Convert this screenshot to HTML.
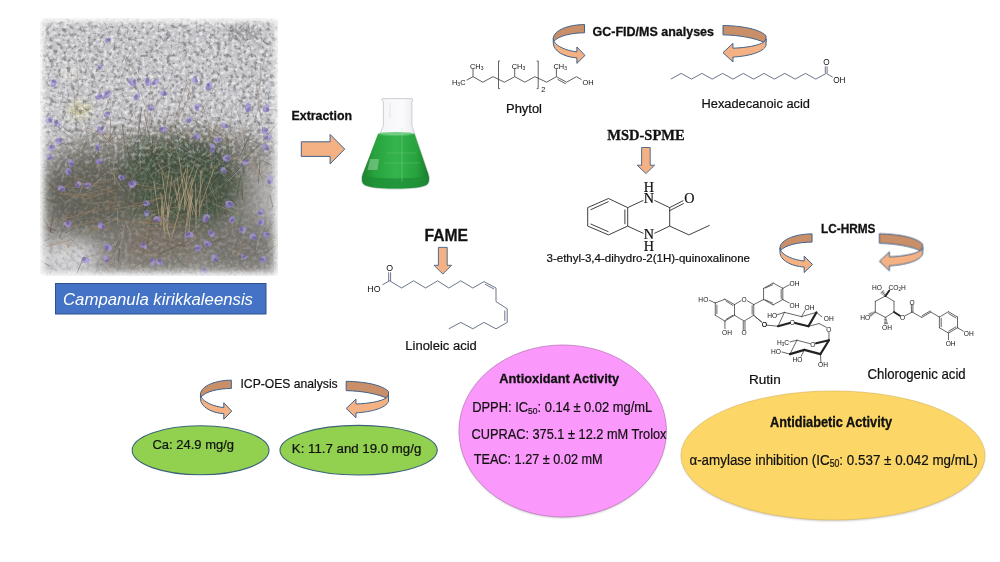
<!DOCTYPE html>
<html><head><meta charset="utf-8">
<style>
html,body{margin:0;padding:0;background:#fff;}
body{width:1000px;height:562px;overflow:hidden;}
svg{display:block;}
text{font-family:"Liberation Sans",sans-serif;fill:#111;}
.m text, text.m{stroke:#111;stroke-width:0.22px;}
.b{font-weight:bold;stroke:#111;stroke-width:0.3px;}
.sr{font-family:"Liberation Serif",serif;}
</style></head><body>
<svg width="1000" height="562" viewBox="0 0 1000 562">
<defs>
  <filter id="shd" x="-10%" y="-10%" width="120%" height="120%"><feGaussianBlur stdDeviation="0.8"/></filter>
  
  
</defs>
<rect width="1000" height="562" fill="#fff"/>

<!-- PHOTO -->
<g id="photo">
<defs>
<filter id="grav" x="0" y="0" width="1" height="1">
 <feTurbulence type="fractalNoise" baseFrequency="0.24" numOctaves="3" seed="3" result="n"/>
 <feColorMatrix in="n" type="matrix" values="0 0 0 0 0  0 0 0 0 0  0 0 0 0 0  -4 0 0 0 2.1" result="a"/>
 <feComposite in="SourceGraphic" in2="a" operator="in"/>
</filter>
<filter id="lite" x="0" y="0" width="1" height="1">
 <feTurbulence type="fractalNoise" baseFrequency="0.28" numOctaves="2" seed="11" result="n"/>
 <feColorMatrix in="n" type="matrix" values="0 0 0 0 0  0 0 0 0 0  0 0 0 0 0  3 0 0 0 -1.3" result="a"/>
 <feComposite in="SourceGraphic" in2="a" operator="in"/>
</filter>
<filter id="bl9" x="-30%" y="-30%" width="160%" height="160%"><feGaussianBlur stdDeviation="9"/></filter>
<filter id="bl4" x="-30%" y="-30%" width="160%" height="160%"><feGaussianBlur stdDeviation="4"/></filter>
<filter id="bl1" x="-30%" y="-30%" width="160%" height="160%"><feGaussianBlur stdDeviation="0.6"/></filter>
<filter id="emask" x="-10%" y="-10%" width="120%" height="120%">
 <feGaussianBlur stdDeviation="3" result="b"/>
 <feTurbulence type="fractalNoise" baseFrequency="0.5" numOctaves="1" seed="2" result="n"/>
 <feDisplacementMap in="b" in2="n" scale="3" xChannelSelector="R" yChannelSelector="G"/>
</filter>
<linearGradient id="litegrad" x1="0" y1="0" x2="0" y2="1"><stop offset="0" stop-color="#fff"/><stop offset="0.38" stop-color="#fff"/><stop offset="0.62" stop-color="#333"/><stop offset="1" stop-color="#555"/></linearGradient>
<mask id="litemask" maskUnits="userSpaceOnUse" x="30" y="10" width="260" height="280"><rect x="30" y="10" width="260" height="280" fill="url(#litegrad)"/></mask>
<linearGradient id="gravgrad" x1="0" y1="0" x2="0" y2="1"><stop offset="0" stop-color="#fff"/><stop offset="0.4" stop-color="#fff"/><stop offset="0.6" stop-color="#555"/><stop offset="1" stop-color="#777"/></linearGradient>
<mask id="gravmask" maskUnits="userSpaceOnUse" x="30" y="10" width="260" height="280"><rect x="30" y="10" width="260" height="280" fill="url(#gravgrad)"/></mask>
<mask id="pmask" maskUnits="userSpaceOnUse" x="0" y="0" width="320" height="300">
 <rect x="43.5" y="21.5" width="232" height="251.5" fill="#fff" filter="url(#emask)"/>
</mask>
<clipPath id="pclip"><rect x="40" y="18" width="238" height="258"/></clipPath>
</defs>
<g mask="url(#pmask)"><g clip-path="url(#pclip)">
<rect x="38" y="16" width="242" height="262" fill="#c4c4c8"/>
<g filter="url(#bl9)">
<path d="M41,170 C55,140 85,132 115,134 C150,124 205,124 240,132 C260,138 277,148 277,158 L277,275 L41,275 Z" fill="#7c7a72" opacity="0.85"/>
<path d="M128,150 C152,134 208,134 232,155 C246,180 238,214 212,226 C180,233 148,227 130,207 C118,188 118,165 128,150 Z" fill="#434f3d"/>
<ellipse cx="92" cy="195" rx="50" ry="38" fill="#5c5d52" opacity="0.85"/>
<ellipse cx="160" cy="240" rx="45" ry="22" fill="#6f6558" opacity="0.6"/>
<ellipse cx="238" cy="245" rx="32" ry="24" fill="#726d68" opacity="0.75"/>
<ellipse cx="68" cy="258" rx="30" ry="16" fill="#d6d6d9"/>
<ellipse cx="268" cy="190" rx="10" ry="35" fill="#b4b2b2"/>
</g>
<g filter="url(#bl4)"><ellipse cx="80" cy="110" rx="12" ry="8" fill="#cbc38a" opacity="0.8"/><ellipse cx="242" cy="33" rx="15" ry="6" fill="#909094"/><ellipse cx="70" cy="74" rx="8" ry="5" fill="#e6e2d8"/></g>
<g mask="url(#gravmask)"><rect x="38" y="16" width="242" height="262" fill="#5c5c60" filter="url(#grav)" opacity="0.55"/></g>
<g mask="url(#litemask)"><rect x="38" y="16" width="242" height="262" fill="#f2f2f4" filter="url(#lite)" opacity="0.75"/></g>
<g filter="url(#bl1)"><line x1="187.8" y1="236.8" x2="207.8" y2="216.4" stroke="#a8a8a8" stroke-width="0.8" opacity="0.6"/><line x1="194.6" y1="206.3" x2="213.8" y2="191.0" stroke="#9a8068" stroke-width="0.8" opacity="0.6"/><line x1="193.9" y1="259.7" x2="179.1" y2="250.8" stroke="#9a8068" stroke-width="0.8" opacity="0.6"/><line x1="131.1" y1="144.7" x2="116.5" y2="126.2" stroke="#b09a80" stroke-width="0.8" opacity="0.6"/><line x1="107.4" y1="262.0" x2="113.7" y2="254.4" stroke="#5a6a58" stroke-width="0.8" opacity="0.6"/><line x1="58.8" y1="219.0" x2="57.5" y2="209.9" stroke="#5a6a58" stroke-width="0.8" opacity="0.6"/><line x1="43.2" y1="241.4" x2="52.6" y2="237.9" stroke="#9a8068" stroke-width="0.8" opacity="0.6"/><line x1="109.7" y1="268.5" x2="111.9" y2="246.3" stroke="#9a8068" stroke-width="0.8" opacity="0.6"/><line x1="84.5" y1="269.5" x2="63.4" y2="249.3" stroke="#b09a80" stroke-width="0.8" opacity="0.6"/><line x1="111.9" y1="182.0" x2="104.5" y2="176.0" stroke="#8a7058" stroke-width="0.8" opacity="0.6"/><line x1="119.7" y1="247.7" x2="124.2" y2="227.9" stroke="#a8a8a8" stroke-width="0.8" opacity="0.6"/><line x1="121.1" y1="174.6" x2="134.1" y2="162.9" stroke="#5e4c3c" stroke-width="0.8" opacity="0.6"/><line x1="85.2" y1="198.0" x2="76.0" y2="190.1" stroke="#8a7058" stroke-width="0.8" opacity="0.6"/><line x1="264.1" y1="181.5" x2="259.2" y2="163.0" stroke="#b09a80" stroke-width="0.8" opacity="0.6"/><line x1="127.7" y1="213.3" x2="120.8" y2="211.4" stroke="#9a8068" stroke-width="0.8" opacity="0.6"/><line x1="187.9" y1="267.4" x2="177.8" y2="261.1" stroke="#5a6a58" stroke-width="0.8" opacity="0.6"/><line x1="262.4" y1="179.6" x2="255.4" y2="162.4" stroke="#5a6a58" stroke-width="0.8" opacity="0.6"/><line x1="150.3" y1="214.9" x2="160.3" y2="204.0" stroke="#5e4c3c" stroke-width="0.8" opacity="0.6"/><line x1="50.6" y1="266.2" x2="38.0" y2="259.6" stroke="#5e4c3c" stroke-width="0.8" opacity="0.6"/><line x1="126.9" y1="151.3" x2="114.0" y2="132.5" stroke="#8a7058" stroke-width="0.8" opacity="0.6"/><line x1="115.1" y1="175.6" x2="109.1" y2="170.5" stroke="#9a8068" stroke-width="0.8" opacity="0.6"/><line x1="210.7" y1="174.5" x2="209.6" y2="151.3" stroke="#8a7058" stroke-width="0.8" opacity="0.6"/><line x1="272.9" y1="206.8" x2="270.0" y2="195.5" stroke="#5e4c3c" stroke-width="0.8" opacity="0.6"/><line x1="122.5" y1="166.0" x2="126.1" y2="157.3" stroke="#a8a8a8" stroke-width="0.8" opacity="0.6"/><line x1="49.7" y1="201.1" x2="56.8" y2="195.3" stroke="#a8a8a8" stroke-width="0.8" opacity="0.6"/><line x1="174.0" y1="149.1" x2="187.8" y2="141.1" stroke="#9a8068" stroke-width="0.8" opacity="0.6"/><line x1="143.7" y1="151.5" x2="154.0" y2="143.5" stroke="#b09a80" stroke-width="0.8" opacity="0.6"/><line x1="257.7" y1="219.3" x2="243.5" y2="207.5" stroke="#b09a80" stroke-width="0.8" opacity="0.6"/><line x1="203.2" y1="175.7" x2="193.4" y2="161.5" stroke="#9a8068" stroke-width="0.8" opacity="0.6"/><line x1="68.3" y1="248.4" x2="69.2" y2="238.1" stroke="#b09a80" stroke-width="0.8" opacity="0.6"/><line x1="245.1" y1="155.9" x2="244.6" y2="137.6" stroke="#5e4c3c" stroke-width="0.8" opacity="0.6"/><line x1="245.0" y1="182.0" x2="261.8" y2="164.1" stroke="#a8a8a8" stroke-width="0.8" opacity="0.6"/><line x1="179.5" y1="134.9" x2="169.8" y2="118.1" stroke="#a8a8a8" stroke-width="0.8" opacity="0.6"/><line x1="107.7" y1="199.9" x2="122.4" y2="182.8" stroke="#5e4c3c" stroke-width="0.8" opacity="0.6"/><line x1="265.9" y1="179.0" x2="245.9" y2="161.6" stroke="#b09a80" stroke-width="0.8" opacity="0.6"/><line x1="170.0" y1="166.1" x2="177.4" y2="150.7" stroke="#5a6a58" stroke-width="0.8" opacity="0.6"/><line x1="159.1" y1="227.0" x2="154.4" y2="215.3" stroke="#5e4c3c" stroke-width="0.8" opacity="0.6"/><line x1="214.7" y1="249.3" x2="204.4" y2="225.1" stroke="#5a6a58" stroke-width="0.8" opacity="0.6"/><line x1="244.9" y1="194.8" x2="239.9" y2="181.7" stroke="#9a8068" stroke-width="0.8" opacity="0.6"/><line x1="165.9" y1="153.9" x2="188.0" y2="135.9" stroke="#b09a80" stroke-width="0.8" opacity="0.6"/><line x1="108.2" y1="141.4" x2="115.1" y2="126.9" stroke="#5e4c3c" stroke-width="0.8" opacity="0.6"/><line x1="224.6" y1="213.6" x2="231.4" y2="199.0" stroke="#5e4c3c" stroke-width="0.8" opacity="0.6"/><line x1="171.5" y1="254.9" x2="154.3" y2="230.4" stroke="#9a8068" stroke-width="0.8" opacity="0.6"/><line x1="79.4" y1="193.5" x2="83.8" y2="183.1" stroke="#a8a8a8" stroke-width="0.8" opacity="0.6"/><line x1="84.2" y1="233.5" x2="112.6" y2="225.1" stroke="#9a8068" stroke-width="0.8" opacity="0.6"/><line x1="54.7" y1="149.2" x2="49.8" y2="140.1" stroke="#9a8068" stroke-width="0.8" opacity="0.6"/><line x1="170.3" y1="189.8" x2="161.8" y2="169.6" stroke="#8a7058" stroke-width="0.8" opacity="0.6"/><line x1="180.1" y1="164.2" x2="185.4" y2="161.3" stroke="#b09a80" stroke-width="0.8" opacity="0.6"/><line x1="264.8" y1="253.2" x2="283.3" y2="240.4" stroke="#5e4c3c" stroke-width="0.8" opacity="0.6"/><line x1="129.5" y1="135.2" x2="131.9" y2="127.3" stroke="#5e4c3c" stroke-width="0.8" opacity="0.6"/><line x1="162.0" y1="267.0" x2="154.4" y2="254.7" stroke="#9a8068" stroke-width="0.8" opacity="0.6"/><line x1="140.1" y1="247.1" x2="145.5" y2="233.2" stroke="#9a8068" stroke-width="0.8" opacity="0.6"/><line x1="78.7" y1="185.1" x2="78.0" y2="174.4" stroke="#9a8068" stroke-width="0.8" opacity="0.6"/><line x1="184.4" y1="180.6" x2="189.6" y2="177.5" stroke="#8a7058" stroke-width="0.8" opacity="0.6"/><line x1="118.3" y1="262.0" x2="119.7" y2="248.2" stroke="#5e4c3c" stroke-width="0.8" opacity="0.6"/><line x1="129.9" y1="192.2" x2="121.3" y2="182.5" stroke="#a8a8a8" stroke-width="0.8" opacity="0.6"/><line x1="130.9" y1="268.4" x2="148.9" y2="259.1" stroke="#5e4c3c" stroke-width="0.8" opacity="0.6"/><line x1="215.4" y1="173.3" x2="211.4" y2="168.2" stroke="#5e4c3c" stroke-width="0.8" opacity="0.6"/><line x1="157.1" y1="171.2" x2="156.5" y2="162.3" stroke="#5e4c3c" stroke-width="0.8" opacity="0.6"/><line x1="266.8" y1="165.4" x2="258.1" y2="162.2" stroke="#b09a80" stroke-width="0.8" opacity="0.6"/><line x1="45.1" y1="206.7" x2="28.9" y2="183.3" stroke="#5a6a58" stroke-width="0.8" opacity="0.6"/><line x1="50.6" y1="200.6" x2="69.0" y2="186.2" stroke="#5e4c3c" stroke-width="0.8" opacity="0.6"/><line x1="110.6" y1="217.6" x2="109.1" y2="196.1" stroke="#5e4c3c" stroke-width="0.8" opacity="0.6"/><line x1="248.1" y1="258.9" x2="239.4" y2="256.3" stroke="#5e4c3c" stroke-width="0.8" opacity="0.6"/><line x1="166.8" y1="178.4" x2="157.2" y2="162.4" stroke="#b09a80" stroke-width="0.8" opacity="0.6"/><line x1="123.8" y1="228.2" x2="130.6" y2="221.9" stroke="#8a7058" stroke-width="0.8" opacity="0.6"/><line x1="101.1" y1="195.6" x2="125.4" y2="183.2" stroke="#5e4c3c" stroke-width="0.8" opacity="0.6"/><line x1="86.7" y1="191.9" x2="101.4" y2="177.9" stroke="#a8a8a8" stroke-width="0.8" opacity="0.6"/><line x1="207.7" y1="221.0" x2="206.3" y2="193.2" stroke="#b09a80" stroke-width="0.8" opacity="0.6"/><line x1="153.3" y1="228.3" x2="168.4" y2="205.2" stroke="#b09a80" stroke-width="0.8" opacity="0.6"/><line x1="236.2" y1="139.5" x2="253.8" y2="125.2" stroke="#b09a80" stroke-width="0.8" opacity="0.6"/><line x1="178.2" y1="223.4" x2="177.2" y2="209.9" stroke="#9a8068" stroke-width="0.8" opacity="0.6"/><line x1="153.9" y1="209.1" x2="153.8" y2="195.1" stroke="#9a8068" stroke-width="0.8" opacity="0.6"/><line x1="141.6" y1="208.0" x2="119.6" y2="199.4" stroke="#5e4c3c" stroke-width="0.8" opacity="0.6"/><line x1="233.8" y1="244.0" x2="236.5" y2="238.0" stroke="#a8a8a8" stroke-width="0.8" opacity="0.6"/><line x1="142.5" y1="139.9" x2="138.0" y2="122.8" stroke="#8a7058" stroke-width="0.8" opacity="0.6"/><line x1="239.0" y1="161.6" x2="249.8" y2="134.8" stroke="#a8a8a8" stroke-width="0.8" opacity="0.6"/><line x1="251.4" y1="273.1" x2="259.9" y2="259.0" stroke="#9a8068" stroke-width="0.8" opacity="0.6"/><line x1="184.9" y1="189.6" x2="168.5" y2="176.6" stroke="#8a7058" stroke-width="0.8" opacity="0.6"/><line x1="172.0" y1="225.1" x2="179.6" y2="214.9" stroke="#5e4c3c" stroke-width="0.8" opacity="0.6"/><line x1="176.6" y1="236.9" x2="184.4" y2="231.9" stroke="#b09a80" stroke-width="0.8" opacity="0.6"/><line x1="63.4" y1="228.7" x2="62.9" y2="214.2" stroke="#a8a8a8" stroke-width="0.8" opacity="0.6"/><line x1="129.6" y1="138.0" x2="134.3" y2="129.7" stroke="#a8a8a8" stroke-width="0.8" opacity="0.6"/><line x1="200.6" y1="171.8" x2="218.3" y2="164.3" stroke="#9a8068" stroke-width="0.8" opacity="0.6"/><line x1="103.6" y1="209.4" x2="89.0" y2="190.4" stroke="#5e4c3c" stroke-width="0.8" opacity="0.6"/><line x1="270.2" y1="246.4" x2="284.0" y2="236.7" stroke="#b09a80" stroke-width="0.8" opacity="0.6"/><line x1="84.0" y1="232.7" x2="87.1" y2="225.3" stroke="#a8a8a8" stroke-width="0.8" opacity="0.6"/><line x1="50.4" y1="254.3" x2="50.6" y2="237.4" stroke="#b09a80" stroke-width="0.8" opacity="0.6"/><line x1="247.2" y1="199.2" x2="235.8" y2="176.8" stroke="#8a7058" stroke-width="0.8" opacity="0.6"/><line x1="168.9" y1="185.4" x2="191.6" y2="168.0" stroke="#b09a80" stroke-width="0.8" opacity="0.6"/><line x1="201.4" y1="162.1" x2="176.4" y2="146.8" stroke="#a8a8a8" stroke-width="0.8" opacity="0.6"/><line x1="157.0" y1="160.5" x2="164.6" y2="147.5" stroke="#5a6a58" stroke-width="0.8" opacity="0.6"/><line x1="97.0" y1="178.0" x2="101.2" y2="164.3" stroke="#b09a80" stroke-width="0.8" opacity="0.6"/><line x1="130.5" y1="234.1" x2="125.6" y2="221.9" stroke="#a8a8a8" stroke-width="0.8" opacity="0.6"/><line x1="143.4" y1="252.6" x2="144.3" y2="232.4" stroke="#5e4c3c" stroke-width="0.8" opacity="0.6"/><line x1="92.3" y1="156.0" x2="86.0" y2="153.3" stroke="#9a8068" stroke-width="0.8" opacity="0.6"/><line x1="89.4" y1="135.7" x2="104.4" y2="126.6" stroke="#5a6a58" stroke-width="0.8" opacity="0.6"/><line x1="123.6" y1="191.5" x2="109.1" y2="167.0" stroke="#b09a80" stroke-width="0.8" opacity="0.6"/><line x1="117.6" y1="196.5" x2="101.8" y2="181.7" stroke="#8a7058" stroke-width="0.8" opacity="0.6"/><line x1="129.7" y1="185.5" x2="137.8" y2="180.4" stroke="#5e4c3c" stroke-width="0.8" opacity="0.6"/><line x1="67.8" y1="247.9" x2="81.3" y2="230.4" stroke="#8a7058" stroke-width="0.8" opacity="0.6"/><line x1="154.8" y1="134.6" x2="168.2" y2="128.2" stroke="#8a7058" stroke-width="0.8" opacity="0.6"/><line x1="202.9" y1="227.0" x2="200.7" y2="198.4" stroke="#8a7058" stroke-width="0.8" opacity="0.6"/><line x1="225.8" y1="176.7" x2="224.3" y2="165.0" stroke="#9a8068" stroke-width="0.8" opacity="0.6"/><line x1="49.8" y1="232.9" x2="54.0" y2="211.6" stroke="#5e4c3c" stroke-width="0.8" opacity="0.6"/><line x1="135.9" y1="270.2" x2="131.1" y2="257.6" stroke="#b09a80" stroke-width="0.8" opacity="0.6"/><line x1="126.6" y1="139.6" x2="143.2" y2="135.1" stroke="#5a6a58" stroke-width="0.8" opacity="0.6"/><line x1="98.3" y1="226.8" x2="118.0" y2="218.3" stroke="#b09a80" stroke-width="0.8" opacity="0.6"/><line x1="212.0" y1="169.0" x2="210.2" y2="152.2" stroke="#a8a8a8" stroke-width="0.8" opacity="0.6"/><line x1="138.0" y1="136.5" x2="141.7" y2="107.0" stroke="#5e4c3c" stroke-width="0.8" opacity="0.6"/><line x1="174.3" y1="265.3" x2="180.6" y2="255.4" stroke="#5a6a58" stroke-width="0.8" opacity="0.6"/><line x1="156.9" y1="264.7" x2="146.0" y2="260.3" stroke="#8a7058" stroke-width="0.8" opacity="0.6"/><line x1="158.4" y1="242.5" x2="134.1" y2="233.2" stroke="#b09a80" stroke-width="0.8" opacity="0.6"/><line x1="113.6" y1="137.4" x2="86.0" y2="127.6" stroke="#9a8068" stroke-width="0.8" opacity="0.6"/><line x1="204.8" y1="222.2" x2="196.2" y2="214.4" stroke="#5e4c3c" stroke-width="0.8" opacity="0.6"/><line x1="227.0" y1="142.5" x2="236.5" y2="139.7" stroke="#8a7058" stroke-width="0.8" opacity="0.6"/><line x1="242.5" y1="160.9" x2="224.3" y2="155.5" stroke="#b09a80" stroke-width="0.8" opacity="0.6"/><line x1="141.0" y1="240.6" x2="141.5" y2="231.4" stroke="#8a7058" stroke-width="0.8" opacity="0.6"/><line x1="255.6" y1="174.3" x2="252.1" y2="148.7" stroke="#9a8068" stroke-width="0.8" opacity="0.6"/><line x1="171.7" y1="150.0" x2="170.5" y2="125.3" stroke="#5e4c3c" stroke-width="0.8" opacity="0.6"/><line x1="233.7" y1="175.1" x2="227.1" y2="170.7" stroke="#9a8068" stroke-width="0.8" opacity="0.6"/><line x1="205.1" y1="245.0" x2="225.9" y2="237.8" stroke="#5e4c3c" stroke-width="0.8" opacity="0.6"/><line x1="56.4" y1="230.9" x2="46.3" y2="227.0" stroke="#5e4c3c" stroke-width="0.8" opacity="0.6"/><line x1="248.5" y1="257.5" x2="226.3" y2="247.3" stroke="#b09a80" stroke-width="0.8" opacity="0.6"/><line x1="218.0" y1="210.1" x2="236.8" y2="199.2" stroke="#5a6a58" stroke-width="0.8" opacity="0.6"/><line x1="72.8" y1="134.1" x2="54.5" y2="121.0" stroke="#5a6a58" stroke-width="0.8" opacity="0.6"/><line x1="265.4" y1="234.8" x2="271.7" y2="224.1" stroke="#5a6a58" stroke-width="0.8" opacity="0.6"/><line x1="230.4" y1="210.9" x2="224.3" y2="199.1" stroke="#9a8068" stroke-width="0.8" opacity="0.6"/><line x1="103.4" y1="227.3" x2="99.4" y2="221.0" stroke="#5a6a58" stroke-width="0.8" opacity="0.6"/><line x1="214.9" y1="134.0" x2="190.2" y2="118.4" stroke="#5a6a58" stroke-width="0.8" opacity="0.6"/><line x1="125.6" y1="253.8" x2="144.7" y2="246.0" stroke="#9a8068" stroke-width="0.8" opacity="0.6"/><line x1="165.4" y1="148.0" x2="155.0" y2="137.8" stroke="#9a8068" stroke-width="0.8" opacity="0.6"/><line x1="178.8" y1="249.1" x2="183.4" y2="242.2" stroke="#5e4c3c" stroke-width="0.8" opacity="0.6"/><line x1="183.8" y1="220.8" x2="164.0" y2="206.6" stroke="#b09a80" stroke-width="0.8" opacity="0.6"/><line x1="228.0" y1="147.0" x2="214.8" y2="122.3" stroke="#b09a80" stroke-width="0.8" opacity="0.6"/><line x1="181.5" y1="154.7" x2="161.0" y2="146.7" stroke="#9a8068" stroke-width="0.8" opacity="0.6"/><line x1="166.6" y1="269.6" x2="168.7" y2="261.4" stroke="#5a6a58" stroke-width="0.8" opacity="0.6"/><line x1="241.0" y1="228.7" x2="236.8" y2="224.4" stroke="#5e4c3c" stroke-width="0.8" opacity="0.6"/><line x1="97.2" y1="231.5" x2="90.7" y2="215.7" stroke="#9a8068" stroke-width="0.8" opacity="0.6"/><line x1="106.8" y1="159.0" x2="109.2" y2="144.6" stroke="#5a6a58" stroke-width="0.8" opacity="0.6"/><line x1="225.7" y1="182.8" x2="244.3" y2="165.3" stroke="#a8a8a8" stroke-width="0.8" opacity="0.6"/><line x1="238.6" y1="252.4" x2="243.4" y2="237.5" stroke="#9a8068" stroke-width="0.8" opacity="0.6"/><line x1="75.4" y1="164.3" x2="72.8" y2="156.5" stroke="#b09a80" stroke-width="0.8" opacity="0.6"/><line x1="65.1" y1="233.3" x2="74.5" y2="228.0" stroke="#5a6a58" stroke-width="0.8" opacity="0.6"/><line x1="218.7" y1="198.7" x2="217.1" y2="180.0" stroke="#8a7058" stroke-width="0.8" opacity="0.6"/><line x1="229.3" y1="184.2" x2="211.7" y2="179.4" stroke="#5e4c3c" stroke-width="0.8" opacity="0.6"/><line x1="187.3" y1="247.1" x2="166.0" y2="240.5" stroke="#5e4c3c" stroke-width="0.8" opacity="0.6"/><line x1="115.0" y1="185.1" x2="113.5" y2="162.3" stroke="#b09a80" stroke-width="0.8" opacity="0.6"/><line x1="147.2" y1="243.4" x2="153.1" y2="215.6" stroke="#5e4c3c" stroke-width="0.8" opacity="0.6"/><line x1="198.8" y1="207.3" x2="209.2" y2="196.9" stroke="#5e4c3c" stroke-width="0.8" opacity="0.6"/><line x1="46.7" y1="240.9" x2="37.7" y2="231.7" stroke="#8a7058" stroke-width="0.8" opacity="0.6"/><line x1="62.4" y1="181.2" x2="67.4" y2="157.5" stroke="#a8a8a8" stroke-width="0.8" opacity="0.6"/><line x1="138.7" y1="269.5" x2="111.5" y2="261.7" stroke="#9a8068" stroke-width="0.8" opacity="0.6"/><line x1="58.9" y1="238.5" x2="71.4" y2="212.4" stroke="#5e4c3c" stroke-width="0.8" opacity="0.6"/><line x1="202.9" y1="250.7" x2="215.1" y2="234.0" stroke="#9a8068" stroke-width="0.8" opacity="0.6"/><line x1="155.0" y1="143.2" x2="143.0" y2="135.7" stroke="#5a6a58" stroke-width="0.8" opacity="0.6"/><line x1="169.3" y1="186.7" x2="154.4" y2="182.9" stroke="#9a8068" stroke-width="0.8" opacity="0.6"/><line x1="217.7" y1="206.1" x2="202.0" y2="190.3" stroke="#5e4c3c" stroke-width="0.8" opacity="0.6"/><line x1="132.5" y1="145.7" x2="141.7" y2="128.7" stroke="#a8a8a8" stroke-width="0.8" opacity="0.6"/><line x1="272.2" y1="165.9" x2="260.8" y2="159.5" stroke="#5a6a58" stroke-width="0.8" opacity="0.6"/><line x1="104.6" y1="219.6" x2="113.3" y2="214.6" stroke="#a8a8a8" stroke-width="0.8" opacity="0.6"/><line x1="138.7" y1="156.7" x2="146.5" y2="138.6" stroke="#a8a8a8" stroke-width="0.8" opacity="0.6"/><line x1="236.3" y1="256.5" x2="245.3" y2="243.3" stroke="#b09a80" stroke-width="0.8" opacity="0.6"/><line x1="155.1" y1="215.9" x2="145.0" y2="203.4" stroke="#8a7058" stroke-width="0.8" opacity="0.6"/><line x1="183.7" y1="269.2" x2="178.7" y2="264.7" stroke="#8a7058" stroke-width="0.8" opacity="0.6"/><line x1="111.2" y1="209.9" x2="113.9" y2="193.7" stroke="#5e4c3c" stroke-width="0.8" opacity="0.6"/><line x1="181.1" y1="223.1" x2="192.4" y2="202.5" stroke="#8a7058" stroke-width="0.8" opacity="0.6"/><line x1="264.8" y1="149.8" x2="265.2" y2="142.1" stroke="#9a8068" stroke-width="0.8" opacity="0.6"/><line x1="241.0" y1="222.9" x2="251.4" y2="218.0" stroke="#a8a8a8" stroke-width="0.8" opacity="0.6"/><line x1="186.0" y1="244.9" x2="190.7" y2="241.1" stroke="#a8a8a8" stroke-width="0.8" opacity="0.6"/><line x1="78.7" y1="143.4" x2="62.0" y2="130.9" stroke="#8a7058" stroke-width="0.8" opacity="0.6"/><line x1="176.5" y1="193.5" x2="165.4" y2="171.8" stroke="#9a8068" stroke-width="0.8" opacity="0.6"/><line x1="208.9" y1="263.1" x2="228.5" y2="255.6" stroke="#5a6a58" stroke-width="0.8" opacity="0.6"/><line x1="66.2" y1="144.8" x2="56.1" y2="140.4" stroke="#5e4c3c" stroke-width="0.8" opacity="0.6"/><line x1="82.5" y1="258.3" x2="105.9" y2="251.5" stroke="#9a8068" stroke-width="0.8" opacity="0.6"/><line x1="136.4" y1="208.3" x2="133.5" y2="199.9" stroke="#5e4c3c" stroke-width="0.8" opacity="0.6"/><line x1="267.1" y1="149.1" x2="252.5" y2="145.4" stroke="#5e4c3c" stroke-width="0.8" opacity="0.6"/><line x1="263.1" y1="140.4" x2="277.9" y2="122.3" stroke="#5e4c3c" stroke-width="0.8" opacity="0.6"/><line x1="45.7" y1="246.6" x2="69.0" y2="240.6" stroke="#9a8068" stroke-width="0.8" opacity="0.6"/><line x1="256.9" y1="185.0" x2="247.4" y2="169.8" stroke="#a8a8a8" stroke-width="0.8" opacity="0.6"/><line x1="221.3" y1="142.8" x2="207.7" y2="134.7" stroke="#5a6a58" stroke-width="0.8" opacity="0.6"/><line x1="56.8" y1="192.3" x2="36.7" y2="170.5" stroke="#5e4c3c" stroke-width="0.8" opacity="0.6"/><line x1="197.9" y1="140.6" x2="193.1" y2="133.8" stroke="#b09a80" stroke-width="0.8" opacity="0.6"/><line x1="143.2" y1="155.9" x2="164.1" y2="139.6" stroke="#9a8068" stroke-width="0.8" opacity="0.6"/><line x1="63.5" y1="181.2" x2="68.0" y2="177.1" stroke="#5a6a58" stroke-width="0.8" opacity="0.6"/><line x1="74.9" y1="246.7" x2="56.3" y2="241.0" stroke="#b09a80" stroke-width="0.8" opacity="0.6"/><line x1="245.1" y1="141.3" x2="255.2" y2="137.9" stroke="#5a6a58" stroke-width="0.8" opacity="0.6"/><line x1="145.6" y1="198.0" x2="134.2" y2="192.2" stroke="#5a6a58" stroke-width="0.8" opacity="0.6"/><line x1="202.8" y1="203.1" x2="188.5" y2="197.4" stroke="#5a6a58" stroke-width="0.8" opacity="0.6"/><line x1="159.0" y1="253.9" x2="179.1" y2="245.2" stroke="#5e4c3c" stroke-width="0.8" opacity="0.6"/><line x1="190.8" y1="135.2" x2="167.4" y2="127.9" stroke="#b09a80" stroke-width="0.8" opacity="0.6"/><line x1="232.1" y1="248.6" x2="227.1" y2="221.5" stroke="#8a7058" stroke-width="0.8" opacity="0.6"/><line x1="275.8" y1="238.9" x2="284.0" y2="234.0" stroke="#5a6a58" stroke-width="0.8" opacity="0.6"/><line x1="86.6" y1="250.1" x2="73.2" y2="243.7" stroke="#b09a80" stroke-width="0.8" opacity="0.6"/><line x1="140.6" y1="169.0" x2="139.5" y2="156.2" stroke="#a8a8a8" stroke-width="0.8" opacity="0.6"/><line x1="190.2" y1="240.8" x2="195.1" y2="234.7" stroke="#a8a8a8" stroke-width="0.8" opacity="0.6"/><line x1="131.2" y1="259.2" x2="140.3" y2="253.6" stroke="#8a7058" stroke-width="0.8" opacity="0.6"/><line x1="216.9" y1="201.1" x2="208.9" y2="186.1" stroke="#b09a80" stroke-width="0.8" opacity="0.6"/><line x1="97.4" y1="262.5" x2="103.5" y2="259.8" stroke="#9a8068" stroke-width="0.8" opacity="0.6"/><line x1="232.1" y1="142.3" x2="214.1" y2="130.3" stroke="#5e4c3c" stroke-width="0.8" opacity="0.6"/><line x1="223.4" y1="151.9" x2="224.7" y2="122.5" stroke="#a8a8a8" stroke-width="0.8" opacity="0.6"/><line x1="172.5" y1="170.8" x2="159.0" y2="163.1" stroke="#5e4c3c" stroke-width="0.8" opacity="0.6"/><line x1="128.3" y1="198.8" x2="134.4" y2="170.3" stroke="#9a8068" stroke-width="0.8" opacity="0.6"/><line x1="267.8" y1="150.2" x2="261.8" y2="148.4" stroke="#b09a80" stroke-width="0.8" opacity="0.6"/><line x1="73.3" y1="199.3" x2="76.5" y2="194.0" stroke="#5a6a58" stroke-width="0.8" opacity="0.6"/><line x1="91.4" y1="163.5" x2="97.7" y2="153.6" stroke="#5e4c3c" stroke-width="0.8" opacity="0.6"/><line x1="55.1" y1="202.1" x2="40.8" y2="196.9" stroke="#5e4c3c" stroke-width="0.8" opacity="0.6"/><line x1="223.7" y1="210.3" x2="222.3" y2="202.0" stroke="#8a7058" stroke-width="0.8" opacity="0.6"/><line x1="258.4" y1="183.3" x2="260.1" y2="160.3" stroke="#5e4c3c" stroke-width="0.8" opacity="0.6"/><line x1="264.2" y1="272.3" x2="259.2" y2="263.6" stroke="#a8a8a8" stroke-width="0.8" opacity="0.6"/><line x1="60.1" y1="194.6" x2="71.0" y2="179.4" stroke="#b09a80" stroke-width="0.8" opacity="0.6"/><line x1="65.0" y1="203.9" x2="76.1" y2="193.9" stroke="#b09a80" stroke-width="0.8" opacity="0.6"/><line x1="74.3" y1="180.5" x2="73.9" y2="161.0" stroke="#9a8068" stroke-width="0.8" opacity="0.6"/><line x1="174.6" y1="136.1" x2="179.9" y2="129.0" stroke="#9a8068" stroke-width="0.8" opacity="0.6"/><line x1="129.6" y1="179.1" x2="142.6" y2="167.2" stroke="#9a8068" stroke-width="0.8" opacity="0.6"/><line x1="215.4" y1="167.7" x2="231.5" y2="154.2" stroke="#b09a80" stroke-width="0.8" opacity="0.6"/><line x1="80.9" y1="243.6" x2="91.1" y2="226.2" stroke="#b09a80" stroke-width="0.8" opacity="0.6"/><line x1="256.1" y1="250.4" x2="260.9" y2="231.4" stroke="#a8a8a8" stroke-width="0.8" opacity="0.6"/><line x1="125.1" y1="147.8" x2="122.4" y2="125.3" stroke="#5e4c3c" stroke-width="0.8" opacity="0.6"/><line x1="157.7" y1="255.5" x2="138.8" y2="248.6" stroke="#8a7058" stroke-width="0.8" opacity="0.6"/><line x1="138.5" y1="206.5" x2="135.5" y2="186.9" stroke="#5e4c3c" stroke-width="0.8" opacity="0.6"/><line x1="264.1" y1="146.0" x2="243.5" y2="137.0" stroke="#8a7058" stroke-width="0.8" opacity="0.6"/><line x1="52.0" y1="233.1" x2="42.7" y2="217.0" stroke="#5e4c3c" stroke-width="0.8" opacity="0.6"/><line x1="210.7" y1="140.0" x2="220.3" y2="115.6" stroke="#8a7058" stroke-width="0.8" opacity="0.6"/><line x1="136.8" y1="174.0" x2="135.1" y2="160.9" stroke="#5a6a58" stroke-width="0.8" opacity="0.6"/><line x1="117.5" y1="224.7" x2="117.4" y2="209.6" stroke="#a8a8a8" stroke-width="0.8" opacity="0.6"/><line x1="92.6" y1="167.9" x2="102.7" y2="163.8" stroke="#8a7058" stroke-width="0.8" opacity="0.6"/><line x1="77.1" y1="273.1" x2="83.1" y2="257.7" stroke="#5e4c3c" stroke-width="0.8" opacity="0.6"/><line x1="194.2" y1="155.2" x2="179.7" y2="145.0" stroke="#a8a8a8" stroke-width="0.8" opacity="0.6"/><line x1="159.5" y1="264.7" x2="156.9" y2="258.8" stroke="#b09a80" stroke-width="0.8" opacity="0.6"/><line x1="104.7" y1="201.1" x2="107.2" y2="173.6" stroke="#5e4c3c" stroke-width="0.8" opacity="0.6"/><line x1="98.1" y1="154.2" x2="99.7" y2="142.3" stroke="#5e4c3c" stroke-width="0.8" opacity="0.6"/><line x1="110.7" y1="145.5" x2="102.0" y2="133.9" stroke="#5e4c3c" stroke-width="0.8" opacity="0.6"/><line x1="103.9" y1="220.6" x2="114.3" y2="193.6" stroke="#8a7058" stroke-width="0.8" opacity="0.6"/><line x1="203.4" y1="145.9" x2="179.7" y2="133.1" stroke="#5e4c3c" stroke-width="0.8" opacity="0.6"/><line x1="239.6" y1="213.9" x2="212.3" y2="203.2" stroke="#b09a80" stroke-width="0.8" opacity="0.6"/><line x1="82.3" y1="178.2" x2="87.7" y2="171.8" stroke="#5a6a58" stroke-width="0.8" opacity="0.6"/><line x1="119.1" y1="143.8" x2="97.8" y2="134.5" stroke="#b09a80" stroke-width="0.8" opacity="0.6"/><line x1="275.7" y1="188.8" x2="268.7" y2="185.7" stroke="#8a7058" stroke-width="0.8" opacity="0.6"/><line x1="262.8" y1="243.8" x2="278.5" y2="234.7" stroke="#8a7058" stroke-width="0.8" opacity="0.6"/><line x1="150.1" y1="140.3" x2="144.1" y2="112.4" stroke="#5e4c3c" stroke-width="0.8" opacity="0.6"/><line x1="109.9" y1="145.5" x2="110.6" y2="117.1" stroke="#8a7058" stroke-width="0.8" opacity="0.6"/><line x1="151.1" y1="144.8" x2="156.8" y2="138.1" stroke="#5e4c3c" stroke-width="0.8" opacity="0.6"/><line x1="64.2" y1="224.3" x2="70.6" y2="210.5" stroke="#8a7058" stroke-width="0.8" opacity="0.6"/><line x1="105.7" y1="209.3" x2="121.1" y2="204.2" stroke="#9a8068" stroke-width="0.8" opacity="0.6"/><line x1="248.4" y1="271.3" x2="230.4" y2="259.1" stroke="#9a8068" stroke-width="0.8" opacity="0.6"/><line x1="257.0" y1="176.9" x2="270.6" y2="164.1" stroke="#9a8068" stroke-width="0.8" opacity="0.6"/><line x1="113.6" y1="253.3" x2="118.5" y2="240.8" stroke="#5e4c3c" stroke-width="0.8" opacity="0.6"/><line x1="256.7" y1="212.7" x2="256.7" y2="199.8" stroke="#a8a8a8" stroke-width="0.8" opacity="0.6"/><line x1="189.1" y1="195.8" x2="183.2" y2="173.5" stroke="#8a7058" stroke-width="0.8" opacity="0.6"/><line x1="73.4" y1="159.2" x2="84.9" y2="138.7" stroke="#8a7058" stroke-width="0.8" opacity="0.6"/><line x1="146.2" y1="163.7" x2="132.9" y2="146.9" stroke="#a8a8a8" stroke-width="0.8" opacity="0.6"/><line x1="146.5" y1="219.2" x2="154.5" y2="213.4" stroke="#a8a8a8" stroke-width="0.8" opacity="0.6"/><line x1="154.7" y1="172.9" x2="172.7" y2="161.8" stroke="#a8a8a8" stroke-width="0.8" opacity="0.6"/><line x1="54.3" y1="233.8" x2="33.7" y2="220.7" stroke="#5e4c3c" stroke-width="0.8" opacity="0.6"/><line x1="177.2" y1="199.3" x2="198.4" y2="182.6" stroke="#5e4c3c" stroke-width="0.8" opacity="0.6"/><line x1="257.2" y1="170.6" x2="245.5" y2="146.2" stroke="#9a8068" stroke-width="0.8" opacity="0.6"/><line x1="164.6" y1="172.4" x2="156.2" y2="149.3" stroke="#5e4c3c" stroke-width="0.8" opacity="0.6"/><line x1="195.3" y1="239.0" x2="198.7" y2="234.0" stroke="#9a8068" stroke-width="0.8" opacity="0.6"/><line x1="115.1" y1="252.8" x2="121.7" y2="238.2" stroke="#5a6a58" stroke-width="0.8" opacity="0.6"/><line x1="181.2" y1="112.3" x2="195.4" y2="85.0" stroke="#8a7460" stroke-width="0.6" opacity="0.55"/><line x1="127.2" y1="128.2" x2="132.3" y2="113.7" stroke="#8a7460" stroke-width="0.6" opacity="0.55"/><line x1="178.3" y1="125.6" x2="180.1" y2="96.2" stroke="#8a7460" stroke-width="0.6" opacity="0.55"/><line x1="155.5" y1="106.1" x2="151.3" y2="91.6" stroke="#8a7460" stroke-width="0.6" opacity="0.55"/><line x1="259.1" y1="131.6" x2="252.3" y2="112.6" stroke="#8a7460" stroke-width="0.6" opacity="0.55"/><line x1="164.0" y1="126.6" x2="162.4" y2="108.6" stroke="#8a7460" stroke-width="0.6" opacity="0.55"/><line x1="145.6" y1="140.4" x2="153.3" y2="98.5" stroke="#8a7460" stroke-width="0.6" opacity="0.55"/><line x1="102.0" y1="96.5" x2="83.1" y2="58.0" stroke="#8a7460" stroke-width="0.6" opacity="0.55"/><line x1="136.5" y1="120.8" x2="131.5" y2="103.7" stroke="#8a7460" stroke-width="0.6" opacity="0.55"/><line x1="174.3" y1="118.6" x2="187.7" y2="82.5" stroke="#8a7460" stroke-width="0.6" opacity="0.55"/><line x1="209.0" y1="142.4" x2="209.8" y2="127.4" stroke="#8a7460" stroke-width="0.6" opacity="0.55"/><line x1="147.3" y1="112.4" x2="140.7" y2="92.8" stroke="#8a7460" stroke-width="0.6" opacity="0.55"/><line x1="95.3" y1="142.2" x2="108.2" y2="116.2" stroke="#8a7460" stroke-width="0.6" opacity="0.55"/><line x1="119.3" y1="85.2" x2="130.5" y2="51.0" stroke="#8a7460" stroke-width="0.6" opacity="0.55"/><line x1="185.6" y1="112.6" x2="190.6" y2="79.8" stroke="#8a7460" stroke-width="0.6" opacity="0.55"/><line x1="246.2" y1="139.6" x2="235.9" y2="106.7" stroke="#8a7460" stroke-width="0.6" opacity="0.55"/><line x1="151.0" y1="115.2" x2="169.3" y2="84.3" stroke="#8a7460" stroke-width="0.6" opacity="0.55"/><line x1="101.2" y1="117.4" x2="109.9" y2="99.2" stroke="#8a7460" stroke-width="0.6" opacity="0.55"/><line x1="141.1" y1="82.3" x2="131.8" y2="63.9" stroke="#8a7460" stroke-width="0.6" opacity="0.55"/><line x1="238.7" y1="107.4" x2="244.5" y2="89.9" stroke="#8a7460" stroke-width="0.6" opacity="0.55"/><line x1="138.7" y1="93.2" x2="123.0" y2="54.2" stroke="#8a7460" stroke-width="0.6" opacity="0.55"/><line x1="90.2" y1="147.3" x2="83.3" y2="117.3" stroke="#8a7460" stroke-width="0.6" opacity="0.55"/><line x1="101.3" y1="128.1" x2="110.1" y2="106.9" stroke="#8a7460" stroke-width="0.6" opacity="0.55"/><line x1="78.9" y1="96.3" x2="76.3" y2="57.0" stroke="#8a7460" stroke-width="0.6" opacity="0.55"/><line x1="228.9" y1="143.0" x2="232.4" y2="103.4" stroke="#8a7460" stroke-width="0.6" opacity="0.55"/><line x1="210.7" y1="131.3" x2="200.9" y2="100.3" stroke="#8a7460" stroke-width="0.6" opacity="0.55"/><line x1="206.8" y1="140.7" x2="188.5" y2="105.5" stroke="#8a7460" stroke-width="0.6" opacity="0.55"/><line x1="258.8" y1="91.3" x2="264.9" y2="55.5" stroke="#8a7460" stroke-width="0.6" opacity="0.55"/><line x1="148.8" y1="137.1" x2="152.0" y2="116.9" stroke="#8a7460" stroke-width="0.6" opacity="0.55"/><line x1="171.6" y1="129.4" x2="189.9" y2="96.9" stroke="#8a7460" stroke-width="0.6" opacity="0.55"/><line x1="203.7" y1="112.7" x2="219.3" y2="73.7" stroke="#8a7460" stroke-width="0.6" opacity="0.55"/><line x1="208.9" y1="142.0" x2="209.1" y2="116.0" stroke="#8a7460" stroke-width="0.6" opacity="0.55"/><line x1="262.6" y1="130.6" x2="257.5" y2="89.4" stroke="#8a7460" stroke-width="0.6" opacity="0.55"/><line x1="114.3" y1="120.0" x2="125.0" y2="97.6" stroke="#8a7460" stroke-width="0.6" opacity="0.55"/><line x1="258.7" y1="108.9" x2="255.6" y2="77.3" stroke="#8a7460" stroke-width="0.6" opacity="0.55"/><line x1="260.5" y1="81.2" x2="260.5" y2="62.9" stroke="#8a7460" stroke-width="0.6" opacity="0.55"/><line x1="165.4" y1="134.4" x2="165.4" y2="116.9" stroke="#8a7460" stroke-width="0.6" opacity="0.55"/><line x1="194.3" y1="102.0" x2="183.7" y2="79.6" stroke="#8a7460" stroke-width="0.6" opacity="0.55"/><line x1="95.7" y1="104.5" x2="100.8" y2="89.1" stroke="#8a7460" stroke-width="0.6" opacity="0.55"/><line x1="189.0" y1="134.6" x2="208.7" y2="97.8" stroke="#8a7460" stroke-width="0.6" opacity="0.55"/><line x1="216.7" y1="141.0" x2="220.6" y2="123.8" stroke="#8a7460" stroke-width="0.6" opacity="0.55"/><line x1="159.9" y1="141.6" x2="152.9" y2="118.5" stroke="#8a7460" stroke-width="0.6" opacity="0.55"/><line x1="147.0" y1="123.1" x2="151.4" y2="79.2" stroke="#8a7460" stroke-width="0.6" opacity="0.55"/><line x1="165.9" y1="141.7" x2="178.2" y2="111.4" stroke="#8a7460" stroke-width="0.6" opacity="0.55"/><line x1="74.9" y1="106.4" x2="73.5" y2="86.6" stroke="#8a7460" stroke-width="0.6" opacity="0.55"/><line x1="200.1" y1="180.2" x2="218.6" y2="166.9" stroke="#6d8a70" stroke-width="0.8" opacity="0.65"/><line x1="206.8" y1="183.3" x2="191.5" y2="166.6" stroke="#6d8a70" stroke-width="0.8" opacity="0.65"/><line x1="129.3" y1="225.2" x2="138.6" y2="203.2" stroke="#3f4d3e" stroke-width="0.8" opacity="0.65"/><line x1="152.4" y1="168.7" x2="143.3" y2="148.7" stroke="#3f4d3e" stroke-width="0.8" opacity="0.65"/><line x1="188.1" y1="187.6" x2="176.7" y2="175.4" stroke="#6d8a70" stroke-width="0.8" opacity="0.65"/><line x1="174.6" y1="161.3" x2="185.1" y2="139.8" stroke="#5f7560" stroke-width="0.8" opacity="0.65"/><line x1="140.8" y1="181.4" x2="149.7" y2="171.7" stroke="#6d8a70" stroke-width="0.8" opacity="0.65"/><line x1="175.5" y1="223.0" x2="170.1" y2="216.9" stroke="#5f7560" stroke-width="0.8" opacity="0.65"/><line x1="213.1" y1="148.4" x2="199.3" y2="132.8" stroke="#5f7560" stroke-width="0.8" opacity="0.65"/><line x1="133.1" y1="151.8" x2="136.4" y2="139.4" stroke="#3f4d3e" stroke-width="0.8" opacity="0.65"/><line x1="152.8" y1="181.0" x2="145.7" y2="162.5" stroke="#3f4d3e" stroke-width="0.8" opacity="0.65"/><line x1="208.2" y1="187.3" x2="222.5" y2="170.2" stroke="#3f4d3e" stroke-width="0.8" opacity="0.65"/><line x1="180.5" y1="148.2" x2="174.7" y2="124.0" stroke="#3f4d3e" stroke-width="0.8" opacity="0.65"/><line x1="135.6" y1="181.3" x2="126.2" y2="159.6" stroke="#6d8a70" stroke-width="0.8" opacity="0.65"/><line x1="238.1" y1="223.0" x2="233.9" y2="200.9" stroke="#6d8a70" stroke-width="0.8" opacity="0.65"/><line x1="140.6" y1="207.0" x2="147.5" y2="192.8" stroke="#6d8a70" stroke-width="0.8" opacity="0.65"/><line x1="146.7" y1="226.7" x2="131.2" y2="214.6" stroke="#6d8a70" stroke-width="0.8" opacity="0.65"/><line x1="155.6" y1="196.4" x2="153.8" y2="178.1" stroke="#6d8a70" stroke-width="0.8" opacity="0.65"/><line x1="139.2" y1="176.4" x2="133.2" y2="166.8" stroke="#6d8a70" stroke-width="0.8" opacity="0.65"/><line x1="154.2" y1="186.4" x2="157.1" y2="170.1" stroke="#5f7560" stroke-width="0.8" opacity="0.65"/><line x1="218.4" y1="170.4" x2="213.3" y2="152.8" stroke="#5f7560" stroke-width="0.8" opacity="0.65"/><line x1="226.6" y1="146.0" x2="222.1" y2="138.8" stroke="#6d8a70" stroke-width="0.8" opacity="0.65"/><line x1="188.1" y1="148.8" x2="176.2" y2="127.0" stroke="#6d8a70" stroke-width="0.8" opacity="0.65"/><line x1="151.5" y1="182.9" x2="143.8" y2="176.3" stroke="#5f7560" stroke-width="0.8" opacity="0.65"/><line x1="138.0" y1="202.6" x2="123.0" y2="184.8" stroke="#3f4d3e" stroke-width="0.8" opacity="0.65"/><line x1="138.2" y1="227.6" x2="149.0" y2="206.6" stroke="#6d8a70" stroke-width="0.8" opacity="0.65"/><line x1="218.9" y1="166.2" x2="211.7" y2="155.8" stroke="#5f7560" stroke-width="0.8" opacity="0.65"/><line x1="172.0" y1="165.0" x2="189.4" y2="151.2" stroke="#6d8a70" stroke-width="0.8" opacity="0.65"/><line x1="181.4" y1="164.3" x2="166.2" y2="150.2" stroke="#3f4d3e" stroke-width="0.8" opacity="0.65"/><line x1="151.2" y1="200.2" x2="140.2" y2="188.3" stroke="#3f4d3e" stroke-width="0.8" opacity="0.65"/><line x1="156.2" y1="183.0" x2="150.2" y2="175.8" stroke="#5f7560" stroke-width="0.8" opacity="0.65"/><line x1="163.4" y1="165.0" x2="165.3" y2="157.1" stroke="#3f4d3e" stroke-width="0.8" opacity="0.65"/><line x1="214.3" y1="194.2" x2="209.8" y2="180.2" stroke="#6d8a70" stroke-width="0.8" opacity="0.65"/><line x1="157.1" y1="162.9" x2="168.2" y2="148.8" stroke="#6d8a70" stroke-width="0.8" opacity="0.65"/><line x1="142.9" y1="145.7" x2="145.1" y2="134.1" stroke="#5f7560" stroke-width="0.8" opacity="0.65"/><line x1="192.7" y1="152.4" x2="186.0" y2="139.5" stroke="#3f4d3e" stroke-width="0.8" opacity="0.65"/><line x1="195.1" y1="168.4" x2="200.2" y2="158.1" stroke="#5f7560" stroke-width="0.8" opacity="0.65"/><line x1="139.3" y1="194.1" x2="147.4" y2="175.4" stroke="#6d8a70" stroke-width="0.8" opacity="0.65"/><line x1="151.6" y1="181.5" x2="147.4" y2="169.9" stroke="#3f4d3e" stroke-width="0.8" opacity="0.65"/><line x1="147.4" y1="183.7" x2="148.4" y2="174.1" stroke="#3f4d3e" stroke-width="0.8" opacity="0.65"/><line x1="201.8" y1="192.1" x2="220.7" y2="176.0" stroke="#5f7560" stroke-width="0.8" opacity="0.65"/><line x1="161.3" y1="191.5" x2="165.5" y2="172.8" stroke="#6d8a70" stroke-width="0.8" opacity="0.65"/><line x1="170.5" y1="214.6" x2="182.1" y2="200.5" stroke="#6d8a70" stroke-width="0.8" opacity="0.65"/><line x1="141.1" y1="182.0" x2="142.6" y2="170.8" stroke="#5f7560" stroke-width="0.8" opacity="0.65"/><line x1="198.3" y1="214.9" x2="206.3" y2="207.2" stroke="#3f4d3e" stroke-width="0.8" opacity="0.65"/><line x1="128.7" y1="167.4" x2="120.1" y2="155.4" stroke="#6d8a70" stroke-width="0.8" opacity="0.65"/><line x1="134.5" y1="174.2" x2="141.6" y2="157.0" stroke="#5f7560" stroke-width="0.8" opacity="0.65"/><line x1="197.4" y1="223.3" x2="205.6" y2="211.4" stroke="#6d8a70" stroke-width="0.8" opacity="0.65"/><line x1="133.1" y1="177.8" x2="145.0" y2="168.9" stroke="#3f4d3e" stroke-width="0.8" opacity="0.65"/><line x1="243.4" y1="222.9" x2="225.4" y2="205.8" stroke="#6d8a70" stroke-width="0.8" opacity="0.65"/><line x1="198.5" y1="148.7" x2="199.1" y2="129.4" stroke="#6d8a70" stroke-width="0.8" opacity="0.65"/><line x1="185.4" y1="159.5" x2="183.0" y2="137.9" stroke="#3f4d3e" stroke-width="0.8" opacity="0.65"/><line x1="205.4" y1="221.8" x2="213.5" y2="203.5" stroke="#3f4d3e" stroke-width="0.8" opacity="0.65"/><line x1="235.9" y1="192.0" x2="246.1" y2="175.7" stroke="#6d8a70" stroke-width="0.8" opacity="0.65"/><line x1="215.5" y1="163.8" x2="215.6" y2="146.9" stroke="#3f4d3e" stroke-width="0.8" opacity="0.65"/><line x1="146.1" y1="212.3" x2="145.9" y2="196.0" stroke="#3f4d3e" stroke-width="0.8" opacity="0.65"/><line x1="193.0" y1="227.3" x2="186.8" y2="208.1" stroke="#5f7560" stroke-width="0.8" opacity="0.65"/><line x1="135.1" y1="209.5" x2="140.4" y2="193.1" stroke="#5f7560" stroke-width="0.8" opacity="0.65"/><line x1="228.2" y1="157.2" x2="228.1" y2="138.7" stroke="#3f4d3e" stroke-width="0.8" opacity="0.65"/><line x1="141.8" y1="154.3" x2="126.2" y2="140.3" stroke="#6d8a70" stroke-width="0.8" opacity="0.65"/><line x1="177.9" y1="160.2" x2="172.5" y2="153.9" stroke="#6d8a70" stroke-width="0.8" opacity="0.65"/><line x1="188.8" y1="200.4" x2="195.1" y2="178.6" stroke="#3f4d3e" stroke-width="0.8" opacity="0.65"/><line x1="151.9" y1="158.6" x2="152.9" y2="136.2" stroke="#3f4d3e" stroke-width="0.8" opacity="0.65"/><line x1="163.8" y1="208.9" x2="165.3" y2="200.9" stroke="#5f7560" stroke-width="0.8" opacity="0.65"/><line x1="149.4" y1="190.5" x2="138.8" y2="168.4" stroke="#5f7560" stroke-width="0.8" opacity="0.65"/><line x1="222.4" y1="165.0" x2="228.3" y2="148.4" stroke="#6d8a70" stroke-width="0.8" opacity="0.65"/><line x1="153.0" y1="179.4" x2="145.4" y2="166.0" stroke="#6d8a70" stroke-width="0.8" opacity="0.65"/><line x1="139.3" y1="157.4" x2="132.5" y2="137.4" stroke="#6d8a70" stroke-width="0.8" opacity="0.65"/><line x1="216.8" y1="227.4" x2="205.1" y2="214.4" stroke="#6d8a70" stroke-width="0.8" opacity="0.65"/><line x1="139.1" y1="188.5" x2="134.9" y2="178.9" stroke="#5f7560" stroke-width="0.8" opacity="0.65"/><line x1="137.1" y1="169.9" x2="122.7" y2="151.0" stroke="#5f7560" stroke-width="0.8" opacity="0.65"/><line x1="163.1" y1="223.5" x2="145.7" y2="208.2" stroke="#6d8a70" stroke-width="0.8" opacity="0.65"/><line x1="171.0" y1="154.5" x2="181.3" y2="141.1" stroke="#6d8a70" stroke-width="0.8" opacity="0.65"/><line x1="213.5" y1="212.3" x2="203.0" y2="204.3" stroke="#6d8a70" stroke-width="0.8" opacity="0.65"/><line x1="141.6" y1="204.7" x2="145.3" y2="191.1" stroke="#3f4d3e" stroke-width="0.8" opacity="0.65"/><line x1="228.9" y1="168.1" x2="226.5" y2="143.8" stroke="#5f7560" stroke-width="0.8" opacity="0.65"/><line x1="179.4" y1="170.8" x2="191.7" y2="160.4" stroke="#6d8a70" stroke-width="0.8" opacity="0.65"/><line x1="187.5" y1="151.2" x2="195.5" y2="145.5" stroke="#3f4d3e" stroke-width="0.8" opacity="0.65"/><line x1="153.6" y1="227.8" x2="157.8" y2="211.4" stroke="#3f4d3e" stroke-width="0.8" opacity="0.65"/><line x1="205.7" y1="184.3" x2="206.4" y2="172.9" stroke="#3f4d3e" stroke-width="0.8" opacity="0.65"/><line x1="128.5" y1="155.0" x2="127.2" y2="147.0" stroke="#3f4d3e" stroke-width="0.8" opacity="0.65"/><line x1="181.2" y1="191.6" x2="197.6" y2="174.9" stroke="#6d8a70" stroke-width="0.8" opacity="0.65"/><line x1="150.1" y1="215.7" x2="150.0" y2="206.6" stroke="#5f7560" stroke-width="0.8" opacity="0.65"/><line x1="198.8" y1="225.2" x2="201.6" y2="200.6" stroke="#6d8a70" stroke-width="0.8" opacity="0.65"/><line x1="130.5" y1="218.8" x2="145.0" y2="206.0" stroke="#5f7560" stroke-width="0.8" opacity="0.65"/><line x1="152.9" y1="188.0" x2="159.9" y2="180.1" stroke="#6d8a70" stroke-width="0.8" opacity="0.65"/><line x1="153.1" y1="150.3" x2="153.8" y2="139.2" stroke="#6d8a70" stroke-width="0.8" opacity="0.65"/><line x1="238.4" y1="225.4" x2="243.7" y2="208.4" stroke="#5f7560" stroke-width="0.8" opacity="0.65"/><line x1="178.4" y1="158.5" x2="176.0" y2="148.9" stroke="#6d8a70" stroke-width="0.8" opacity="0.65"/><line x1="160.7" y1="226.4" x2="153.3" y2="203.8" stroke="#3f4d3e" stroke-width="0.8" opacity="0.65"/><line x1="237.1" y1="205.3" x2="228.1" y2="196.4" stroke="#3f4d3e" stroke-width="0.8" opacity="0.65"/><line x1="169.5" y1="170.5" x2="170.7" y2="149.9" stroke="#6d8a70" stroke-width="0.8" opacity="0.65"/><line x1="166.4" y1="159.2" x2="158.3" y2="144.5" stroke="#6d8a70" stroke-width="0.8" opacity="0.65"/><line x1="197.5" y1="179.9" x2="204.7" y2="170.7" stroke="#5f7560" stroke-width="0.8" opacity="0.65"/><line x1="215.2" y1="222.4" x2="197.7" y2="207.6" stroke="#5f7560" stroke-width="0.8" opacity="0.65"/><line x1="218.2" y1="220.5" x2="216.3" y2="203.7" stroke="#6d8a70" stroke-width="0.8" opacity="0.65"/><line x1="205.6" y1="154.4" x2="217.4" y2="146.3" stroke="#6d8a70" stroke-width="0.8" opacity="0.65"/><line x1="138.5" y1="148.0" x2="157.1" y2="132.7" stroke="#6d8a70" stroke-width="0.8" opacity="0.65"/><line x1="143.8" y1="172.6" x2="152.0" y2="162.1" stroke="#6d8a70" stroke-width="0.8" opacity="0.65"/><line x1="145.5" y1="218.4" x2="152.0" y2="212.5" stroke="#6d8a70" stroke-width="0.8" opacity="0.65"/><line x1="164.4" y1="152.2" x2="164.7" y2="127.8" stroke="#5f7560" stroke-width="0.8" opacity="0.65"/><line x1="161.3" y1="195.4" x2="161.7" y2="179.1" stroke="#3f4d3e" stroke-width="0.8" opacity="0.65"/><line x1="144.9" y1="161.4" x2="140.4" y2="137.1" stroke="#6d8a70" stroke-width="0.8" opacity="0.65"/><line x1="236.7" y1="196.6" x2="240.7" y2="175.6" stroke="#3f4d3e" stroke-width="0.8" opacity="0.65"/><line x1="196.8" y1="153.8" x2="204.9" y2="139.2" stroke="#3f4d3e" stroke-width="0.8" opacity="0.65"/><line x1="207.5" y1="172.3" x2="203.8" y2="164.7" stroke="#5f7560" stroke-width="0.8" opacity="0.65"/><line x1="228.8" y1="191.4" x2="243.7" y2="178.6" stroke="#5f7560" stroke-width="0.8" opacity="0.65"/><line x1="209.1" y1="163.2" x2="218.2" y2="156.7" stroke="#3f4d3e" stroke-width="0.8" opacity="0.65"/><line x1="243.0" y1="171.4" x2="247.4" y2="160.9" stroke="#6d8a70" stroke-width="0.8" opacity="0.65"/><line x1="210.2" y1="156.5" x2="218.0" y2="146.3" stroke="#3f4d3e" stroke-width="0.8" opacity="0.65"/><line x1="172.7" y1="182.7" x2="178.3" y2="170.6" stroke="#5f7560" stroke-width="0.8" opacity="0.65"/><line x1="242.4" y1="199.6" x2="241.8" y2="182.0" stroke="#3f4d3e" stroke-width="0.8" opacity="0.65"/><line x1="153.4" y1="210.1" x2="158.6" y2="202.3" stroke="#5f7560" stroke-width="0.8" opacity="0.65"/><line x1="196.8" y1="226.2" x2="202.4" y2="204.4" stroke="#5f7560" stroke-width="0.8" opacity="0.65"/><line x1="184.6" y1="180.0" x2="184.1" y2="165.7" stroke="#3f4d3e" stroke-width="0.8" opacity="0.65"/><line x1="194.0" y1="155.2" x2="207.2" y2="144.5" stroke="#3f4d3e" stroke-width="0.8" opacity="0.65"/><line x1="200.5" y1="161.2" x2="215.9" y2="148.3" stroke="#6d8a70" stroke-width="0.8" opacity="0.65"/><line x1="140.7" y1="205.7" x2="138.0" y2="195.8" stroke="#3f4d3e" stroke-width="0.8" opacity="0.65"/><line x1="214.8" y1="208.4" x2="212.8" y2="198.4" stroke="#5f7560" stroke-width="0.8" opacity="0.65"/><line x1="150.9" y1="200.5" x2="155.7" y2="188.8" stroke="#5f7560" stroke-width="0.8" opacity="0.65"/><line x1="137.0" y1="188.1" x2="127.7" y2="172.3" stroke="#3f4d3e" stroke-width="0.8" opacity="0.65"/><line x1="152.4" y1="205.7" x2="150.6" y2="187.9" stroke="#6d8a70" stroke-width="0.8" opacity="0.65"/><line x1="138.1" y1="156.6" x2="138.0" y2="142.3" stroke="#3f4d3e" stroke-width="0.8" opacity="0.65"/><line x1="197.5" y1="186.5" x2="203.1" y2="168.7" stroke="#6d8a70" stroke-width="0.8" opacity="0.65"/><line x1="200.7" y1="156.1" x2="184.8" y2="142.7" stroke="#6d8a70" stroke-width="0.8" opacity="0.65"/><line x1="145.4" y1="174.8" x2="152.4" y2="157.0" stroke="#6d8a70" stroke-width="0.8" opacity="0.65"/><line x1="175.5" y1="163.8" x2="185.0" y2="150.8" stroke="#3f4d3e" stroke-width="0.8" opacity="0.65"/><line x1="240.5" y1="155.0" x2="250.8" y2="133.3" stroke="#3f4d3e" stroke-width="0.8" opacity="0.65"/><line x1="228.0" y1="218.0" x2="216.4" y2="199.6" stroke="#3f4d3e" stroke-width="0.8" opacity="0.65"/><line x1="178.6" y1="156.5" x2="171.6" y2="134.4" stroke="#6d8a70" stroke-width="0.8" opacity="0.65"/><line x1="243.9" y1="173.2" x2="242.0" y2="163.2" stroke="#3f4d3e" stroke-width="0.8" opacity="0.65"/><line x1="133.7" y1="200.8" x2="134.1" y2="191.6" stroke="#6d8a70" stroke-width="0.8" opacity="0.65"/><line x1="177.4" y1="214.4" x2="173.8" y2="196.6" stroke="#5f7560" stroke-width="0.8" opacity="0.65"/><line x1="242.9" y1="160.9" x2="259.3" y2="144.7" stroke="#3f4d3e" stroke-width="0.8" opacity="0.65"/><line x1="162.2" y1="147.9" x2="159.1" y2="126.4" stroke="#6d8a70" stroke-width="0.8" opacity="0.65"/><line x1="151.4" y1="195.6" x2="165.4" y2="184.2" stroke="#5f7560" stroke-width="0.8" opacity="0.65"/><line x1="126.4" y1="181.6" x2="114.6" y2="162.7" stroke="#3f4d3e" stroke-width="0.8" opacity="0.65"/><line x1="169.9" y1="166.4" x2="170.0" y2="157.1" stroke="#3f4d3e" stroke-width="0.8" opacity="0.65"/><line x1="134.4" y1="217.3" x2="122.1" y2="199.3" stroke="#5f7560" stroke-width="0.8" opacity="0.65"/><line x1="219.7" y1="192.8" x2="224.6" y2="175.9" stroke="#5f7560" stroke-width="0.8" opacity="0.65"/><line x1="223.8" y1="184.3" x2="239.5" y2="168.3" stroke="#3f4d3e" stroke-width="0.8" opacity="0.65"/><line x1="232.3" y1="195.5" x2="245.1" y2="180.3" stroke="#6d8a70" stroke-width="0.8" opacity="0.65"/><line x1="167.2" y1="148.3" x2="159.7" y2="139.8" stroke="#6d8a70" stroke-width="0.8" opacity="0.65"/><line x1="157.5" y1="175.2" x2="169.4" y2="164.7" stroke="#5f7560" stroke-width="0.8" opacity="0.65"/><line x1="153.3" y1="161.0" x2="170.5" y2="145.7" stroke="#5f7560" stroke-width="0.8" opacity="0.65"/><line x1="212.6" y1="177.1" x2="212.0" y2="157.5" stroke="#6d8a70" stroke-width="0.8" opacity="0.65"/><line x1="236.8" y1="184.9" x2="230.3" y2="179.7" stroke="#3f4d3e" stroke-width="0.8" opacity="0.65"/><line x1="176.3" y1="219.2" x2="161.9" y2="200.6" stroke="#6d8a70" stroke-width="0.8" opacity="0.65"/><line x1="145.9" y1="189.6" x2="150.5" y2="178.0" stroke="#5f7560" stroke-width="0.8" opacity="0.65"/><line x1="168.4" y1="214.4" x2="184.3" y2="202.5" stroke="#5f7560" stroke-width="0.8" opacity="0.65"/><line x1="216.6" y1="205.1" x2="216.6" y2="183.4" stroke="#5f7560" stroke-width="0.8" opacity="0.65"/><line x1="144.9" y1="201.4" x2="145.7" y2="188.5" stroke="#6d8a70" stroke-width="0.8" opacity="0.65"/><line x1="221.0" y1="225.8" x2="238.5" y2="208.6" stroke="#5f7560" stroke-width="0.8" opacity="0.65"/><line x1="187.7" y1="166.2" x2="194.1" y2="155.4" stroke="#6d8a70" stroke-width="0.8" opacity="0.65"/><line x1="238.4" y1="222.2" x2="227.1" y2="201.2" stroke="#6d8a70" stroke-width="0.8" opacity="0.65"/><line x1="218.6" y1="164.4" x2="212.6" y2="155.5" stroke="#3f4d3e" stroke-width="0.8" opacity="0.65"/><line x1="169.1" y1="218.4" x2="175.3" y2="204.4" stroke="#5f7560" stroke-width="0.8" opacity="0.65"/><line x1="130.5" y1="173.2" x2="125.7" y2="164.5" stroke="#5f7560" stroke-width="0.8" opacity="0.65"/><line x1="210.5" y1="205.9" x2="212.7" y2="192.6" stroke="#3f4d3e" stroke-width="0.8" opacity="0.65"/><line x1="207.4" y1="195.0" x2="225.1" y2="182.9" stroke="#6d8a70" stroke-width="0.8" opacity="0.65"/><line x1="188.2" y1="215.5" x2="192.9" y2="193.6" stroke="#c2a886" stroke-width="0.8" opacity="0.75"/><line x1="188.8" y1="233.3" x2="192.4" y2="188.7" stroke="#c2a886" stroke-width="0.8" opacity="0.75"/><line x1="168.5" y1="217.1" x2="161.7" y2="172.6" stroke="#c2a886" stroke-width="0.8" opacity="0.75"/><line x1="196.3" y1="214.5" x2="195.4" y2="183.4" stroke="#c2a886" stroke-width="0.8" opacity="0.75"/><line x1="199.9" y1="207.8" x2="214.6" y2="167.2" stroke="#c2a886" stroke-width="0.8" opacity="0.75"/><line x1="170.4" y1="238.9" x2="164.3" y2="217.3" stroke="#c2a886" stroke-width="0.8" opacity="0.75"/><line x1="174.9" y1="202.9" x2="186.2" y2="168.0" stroke="#c2a886" stroke-width="0.8" opacity="0.75"/><line x1="184.2" y1="210.4" x2="187.6" y2="165.7" stroke="#c2a886" stroke-width="0.8" opacity="0.75"/><line x1="185.3" y1="204.7" x2="178.9" y2="155.5" stroke="#c2a886" stroke-width="0.8" opacity="0.75"/><line x1="177.7" y1="209.8" x2="193.9" y2="165.2" stroke="#c2a886" stroke-width="0.8" opacity="0.75"/><line x1="165.2" y1="238.9" x2="161.9" y2="194.0" stroke="#c2a886" stroke-width="0.8" opacity="0.75"/><line x1="180.2" y1="210.6" x2="173.6" y2="180.8" stroke="#c2a886" stroke-width="0.8" opacity="0.75"/><line x1="193.1" y1="215.4" x2="183.6" y2="175.7" stroke="#c2a886" stroke-width="0.8" opacity="0.75"/><line x1="163.2" y1="213.3" x2="169.3" y2="169.2" stroke="#c2a886" stroke-width="0.8" opacity="0.75"/><line x1="187.5" y1="225.3" x2="192.3" y2="179.6" stroke="#c2a886" stroke-width="0.8" opacity="0.75"/><line x1="184.3" y1="204.5" x2="192.5" y2="176.9" stroke="#c2a886" stroke-width="0.8" opacity="0.75"/><line x1="161.1" y1="226.1" x2="161.7" y2="205.6" stroke="#c2a886" stroke-width="0.8" opacity="0.75"/><line x1="179.9" y1="202.6" x2="177.5" y2="178.0" stroke="#c2a886" stroke-width="0.8" opacity="0.75"/><line x1="196.9" y1="217.7" x2="189.1" y2="194.2" stroke="#c2a886" stroke-width="0.8" opacity="0.75"/><line x1="164.0" y1="230.9" x2="160.7" y2="192.5" stroke="#c2a886" stroke-width="0.8" opacity="0.75"/><line x1="195.5" y1="206.0" x2="203.4" y2="179.4" stroke="#c2a886" stroke-width="0.8" opacity="0.75"/><line x1="185.1" y1="207.3" x2="197.5" y2="168.1" stroke="#c2a886" stroke-width="0.8" opacity="0.75"/><line x1="167.1" y1="216.9" x2="172.0" y2="175.7" stroke="#c2a886" stroke-width="0.8" opacity="0.75"/><line x1="199.2" y1="216.6" x2="201.1" y2="170.6" stroke="#c2a886" stroke-width="0.8" opacity="0.75"/><line x1="167.0" y1="231.5" x2="168.6" y2="211.6" stroke="#c2a886" stroke-width="0.8" opacity="0.75"/><line x1="171.8" y1="237.5" x2="184.7" y2="190.2" stroke="#c2a886" stroke-width="0.8" opacity="0.75"/><line x1="184.9" y1="239.1" x2="189.3" y2="196.1" stroke="#c2a886" stroke-width="0.8" opacity="0.75"/><line x1="160.5" y1="225.4" x2="153.7" y2="180.6" stroke="#c2a886" stroke-width="0.8" opacity="0.75"/><line x1="196.0" y1="228.7" x2="195.7" y2="198.7" stroke="#c2a886" stroke-width="0.8" opacity="0.75"/><line x1="166.4" y1="221.6" x2="172.3" y2="195.8" stroke="#c2a886" stroke-width="0.8" opacity="0.75"/><line x1="134.8" y1="226.3" x2="169.6" y2="213.7" stroke="#9c8064" stroke-width="0.8" opacity="0.7"/><line x1="85.6" y1="203.0" x2="123.7" y2="201.8" stroke="#9c8064" stroke-width="0.8" opacity="0.7"/><line x1="77.6" y1="183.1" x2="99.7" y2="186.1" stroke="#9c8064" stroke-width="0.8" opacity="0.7"/><line x1="58.2" y1="193.0" x2="83.3" y2="197.9" stroke="#9c8064" stroke-width="0.8" opacity="0.7"/><line x1="143.2" y1="222.9" x2="175.0" y2="224.3" stroke="#9c8064" stroke-width="0.8" opacity="0.7"/><line x1="131.6" y1="183.5" x2="158.9" y2="188.4" stroke="#9c8064" stroke-width="0.8" opacity="0.7"/><line x1="74.6" y1="180.4" x2="112.4" y2="192.1" stroke="#9c8064" stroke-width="0.8" opacity="0.7"/><line x1="52.9" y1="222.3" x2="94.2" y2="210.3" stroke="#9c8064" stroke-width="0.8" opacity="0.7"/><line x1="110.7" y1="209.4" x2="144.2" y2="204.6" stroke="#9c8064" stroke-width="0.8" opacity="0.7"/><line x1="72.4" y1="184.2" x2="107.4" y2="182.3" stroke="#9c8064" stroke-width="0.8" opacity="0.7"/><line x1="132.1" y1="204.6" x2="162.2" y2="197.5" stroke="#9c8064" stroke-width="0.8" opacity="0.7"/><line x1="71.4" y1="197.5" x2="111.6" y2="187.6" stroke="#9c8064" stroke-width="0.8" opacity="0.7"/><line x1="141.9" y1="190.0" x2="163.7" y2="188.4" stroke="#9c8064" stroke-width="0.8" opacity="0.7"/><line x1="144.7" y1="212.0" x2="185.2" y2="205.7" stroke="#9c8064" stroke-width="0.8" opacity="0.7"/><line x1="64.1" y1="193.3" x2="92.9" y2="195.7" stroke="#9c8064" stroke-width="0.8" opacity="0.7"/><line x1="86.0" y1="228.9" x2="110.8" y2="227.8" stroke="#9c8064" stroke-width="0.8" opacity="0.7"/><line x1="55.1" y1="186.7" x2="89.5" y2="187.9" stroke="#9c8064" stroke-width="0.8" opacity="0.7"/><line x1="137.5" y1="223.9" x2="162.0" y2="210.8" stroke="#9c8064" stroke-width="0.8" opacity="0.7"/><line x1="63.9" y1="228.8" x2="102.3" y2="219.7" stroke="#9c8064" stroke-width="0.8" opacity="0.7"/><line x1="83.7" y1="199.8" x2="116.4" y2="189.6" stroke="#9c8064" stroke-width="0.8" opacity="0.7"/><line x1="144.6" y1="229.4" x2="180.9" y2="226.6" stroke="#9c8064" stroke-width="0.8" opacity="0.7"/><line x1="117.5" y1="220.5" x2="150.2" y2="222.8" stroke="#9c8064" stroke-width="0.8" opacity="0.7"/><line x1="92.9" y1="213.2" x2="112.7" y2="203.1" stroke="#9c8064" stroke-width="0.8" opacity="0.7"/><line x1="132.0" y1="209.4" x2="169.1" y2="194.6" stroke="#9c8064" stroke-width="0.8" opacity="0.7"/><line x1="70.9" y1="221.6" x2="98.9" y2="206.8" stroke="#9c8064" stroke-width="0.8" opacity="0.7"/></g>
<g filter="url(#bl1)" opacity="0.75"><ellipse cx="107.0" cy="40.4" rx="2.8" ry="1.8" transform="rotate(83 107.0 40.4)" fill="#9080c8"/><ellipse cx="105.0" cy="40.4" rx="2.2" ry="1.4" transform="rotate(156 107.0 40.4)" fill="#a89bd8"/><ellipse cx="105.3" cy="40.6" rx="1.7" ry="1.1" transform="rotate(162 107.0 40.4)" fill="#7464b0"/><ellipse cx="53.9" cy="83.2" rx="4.0" ry="2.6" transform="rotate(111 53.9 83.2)" fill="#9080c8"/><ellipse cx="53.7" cy="84.1" rx="3.2" ry="2.1" transform="rotate(127 53.9 83.2)" fill="#a89bd8"/><ellipse cx="52.9" cy="81.6" rx="2.4" ry="1.5" transform="rotate(28 53.9 83.2)" fill="#7464b0"/><ellipse cx="100.0" cy="67.0" rx="2.8" ry="1.8" transform="rotate(91 100.0 67.0)" fill="#9080c8"/><ellipse cx="99.5" cy="68.0" rx="2.2" ry="1.4" transform="rotate(139 100.0 67.0)" fill="#a89bd8"/><ellipse cx="99.2" cy="67.7" rx="1.7" ry="1.1" transform="rotate(18 100.0 67.0)" fill="#7464b0"/><ellipse cx="107.0" cy="94.8" rx="4.0" ry="2.6" transform="rotate(131 107.0 94.8)" fill="#9080c8"/><ellipse cx="105.8" cy="93.9" rx="3.2" ry="2.1" transform="rotate(48 107.0 94.8)" fill="#a89bd8"/><ellipse cx="105.8" cy="96.3" rx="2.4" ry="1.5" transform="rotate(146 107.0 94.8)" fill="#7464b0"/><ellipse cx="99.0" cy="97.0" rx="3.5" ry="2.3" transform="rotate(158 99.0 97.0)" fill="#9080c8"/><ellipse cx="97.1" cy="96.7" rx="2.8" ry="1.8" transform="rotate(89 99.0 97.0)" fill="#a89bd8"/><ellipse cx="97.4" cy="97.4" rx="2.1" ry="1.4" transform="rotate(163 99.0 97.0)" fill="#7464b0"/><ellipse cx="132.5" cy="83.2" rx="4.0" ry="2.6" transform="rotate(22 132.5 83.2)" fill="#9080c8"/><ellipse cx="130.5" cy="81.5" rx="3.2" ry="2.1" transform="rotate(37 132.5 83.2)" fill="#a89bd8"/><ellipse cx="130.6" cy="81.5" rx="2.4" ry="1.5" transform="rotate(97 132.5 83.2)" fill="#7464b0"/><ellipse cx="147.5" cy="82.0" rx="4.0" ry="2.6" transform="rotate(89 147.5 82.0)" fill="#9080c8"/><ellipse cx="148.1" cy="80.4" rx="3.2" ry="2.1" transform="rotate(72 147.5 82.0)" fill="#a89bd8"/><ellipse cx="146.2" cy="82.4" rx="2.4" ry="1.5" transform="rotate(104 147.5 82.0)" fill="#7464b0"/><ellipse cx="155.6" cy="82.0" rx="3.5" ry="2.3" transform="rotate(172 155.6 82.0)" fill="#9080c8"/><ellipse cx="154.2" cy="81.1" rx="2.8" ry="1.8" transform="rotate(109 155.6 82.0)" fill="#a89bd8"/><ellipse cx="157.6" cy="80.5" rx="2.1" ry="1.4" transform="rotate(179 155.6 82.0)" fill="#7464b0"/><ellipse cx="137.0" cy="97.0" rx="3.5" ry="2.3" transform="rotate(127 137.0 97.0)" fill="#9080c8"/><ellipse cx="135.2" cy="96.5" rx="2.8" ry="1.8" transform="rotate(110 137.0 97.0)" fill="#a89bd8"/><ellipse cx="137.4" cy="98.1" rx="2.1" ry="1.4" transform="rotate(121 137.0 97.0)" fill="#7464b0"/><ellipse cx="151.0" cy="107.5" rx="3.5" ry="2.3" transform="rotate(16 151.0 107.5)" fill="#9080c8"/><ellipse cx="150.8" cy="107.1" rx="2.8" ry="1.8" transform="rotate(105 151.0 107.5)" fill="#a89bd8"/><ellipse cx="151.3" cy="105.6" rx="2.1" ry="1.4" transform="rotate(177 151.0 107.5)" fill="#7464b0"/><ellipse cx="107.0" cy="114.4" rx="3.5" ry="2.3" transform="rotate(144 107.0 114.4)" fill="#9080c8"/><ellipse cx="106.8" cy="113.7" rx="2.8" ry="1.8" transform="rotate(38 107.0 114.4)" fill="#a89bd8"/><ellipse cx="107.5" cy="112.8" rx="2.1" ry="1.4" transform="rotate(16 107.0 114.4)" fill="#7464b0"/><ellipse cx="49.2" cy="120.2" rx="4.0" ry="2.6" transform="rotate(141 49.2 120.2)" fill="#9080c8"/><ellipse cx="49.2" cy="121.0" rx="3.2" ry="2.1" transform="rotate(145 49.2 120.2)" fill="#a89bd8"/><ellipse cx="50.2" cy="119.9" rx="2.4" ry="1.5" transform="rotate(45 49.2 120.2)" fill="#7464b0"/><ellipse cx="57.3" cy="123.7" rx="3.5" ry="2.3" transform="rotate(42 57.3 123.7)" fill="#9080c8"/><ellipse cx="58.7" cy="123.2" rx="2.8" ry="1.8" transform="rotate(67 57.3 123.7)" fill="#a89bd8"/><ellipse cx="56.0" cy="125.1" rx="2.1" ry="1.4" transform="rotate(120 57.3 123.7)" fill="#7464b0"/><ellipse cx="100.0" cy="129.5" rx="3.5" ry="2.3" transform="rotate(47 100.0 129.5)" fill="#9080c8"/><ellipse cx="101.8" cy="131.4" rx="2.8" ry="1.8" transform="rotate(31 100.0 129.5)" fill="#a89bd8"/><ellipse cx="98.0" cy="127.7" rx="2.1" ry="1.4" transform="rotate(109 100.0 129.5)" fill="#7464b0"/><ellipse cx="58.5" cy="141.0" rx="3.5" ry="2.3" transform="rotate(38 58.5 141.0)" fill="#9080c8"/><ellipse cx="57.9" cy="139.6" rx="2.8" ry="1.8" transform="rotate(174 58.5 141.0)" fill="#a89bd8"/><ellipse cx="57.0" cy="139.3" rx="2.1" ry="1.4" transform="rotate(101 58.5 141.0)" fill="#7464b0"/><ellipse cx="194.7" cy="79.7" rx="3.5" ry="2.3" transform="rotate(100 194.7 79.7)" fill="#9080c8"/><ellipse cx="195.5" cy="80.8" rx="2.8" ry="1.8" transform="rotate(81 194.7 79.7)" fill="#a89bd8"/><ellipse cx="196.2" cy="78.4" rx="2.1" ry="1.4" transform="rotate(69 194.7 79.7)" fill="#7464b0"/><ellipse cx="208.6" cy="86.7" rx="4.0" ry="2.6" transform="rotate(129 208.6 86.7)" fill="#9080c8"/><ellipse cx="207.0" cy="84.9" rx="3.2" ry="2.1" transform="rotate(89 208.6 86.7)" fill="#a89bd8"/><ellipse cx="207.3" cy="87.2" rx="2.4" ry="1.5" transform="rotate(95 208.6 86.7)" fill="#7464b0"/><ellipse cx="163.5" cy="93.6" rx="3.5" ry="2.3" transform="rotate(15 163.5 93.6)" fill="#9080c8"/><ellipse cx="162.2" cy="93.4" rx="2.8" ry="1.8" transform="rotate(2 163.5 93.6)" fill="#a89bd8"/><ellipse cx="163.1" cy="92.3" rx="2.1" ry="1.4" transform="rotate(101 163.5 93.6)" fill="#7464b0"/><ellipse cx="197.0" cy="107.5" rx="3.5" ry="2.3" transform="rotate(87 197.0 107.5)" fill="#9080c8"/><ellipse cx="195.1" cy="109.5" rx="2.8" ry="1.8" transform="rotate(169 197.0 107.5)" fill="#a89bd8"/><ellipse cx="197.2" cy="107.6" rx="2.1" ry="1.4" transform="rotate(160 197.0 107.5)" fill="#7464b0"/><ellipse cx="247.9" cy="107.5" rx="4.6" ry="2.9" transform="rotate(97 247.9 107.5)" fill="#9080c8"/><ellipse cx="248.1" cy="106.7" rx="3.6" ry="2.3" transform="rotate(116 247.9 107.5)" fill="#a89bd8"/><ellipse cx="248.8" cy="105.9" rx="2.7" ry="1.7" transform="rotate(130 247.9 107.5)" fill="#7464b0"/><ellipse cx="266.0" cy="108.6" rx="4.0" ry="2.6" transform="rotate(126 266.0 108.6)" fill="#9080c8"/><ellipse cx="264.2" cy="109.0" rx="3.2" ry="2.1" transform="rotate(115 266.0 108.6)" fill="#a89bd8"/><ellipse cx="267.5" cy="107.5" rx="2.4" ry="1.5" transform="rotate(67 266.0 108.6)" fill="#7464b0"/><ellipse cx="188.9" cy="120.2" rx="3.5" ry="2.3" transform="rotate(148 188.9 120.2)" fill="#9080c8"/><ellipse cx="187.0" cy="120.6" rx="2.8" ry="1.8" transform="rotate(158 188.9 120.2)" fill="#a89bd8"/><ellipse cx="189.6" cy="119.8" rx="2.1" ry="1.4" transform="rotate(110 188.9 120.2)" fill="#7464b0"/><ellipse cx="224.7" cy="126.0" rx="3.5" ry="2.3" transform="rotate(12 224.7 126.0)" fill="#9080c8"/><ellipse cx="223.0" cy="125.4" rx="2.8" ry="1.8" transform="rotate(33 224.7 126.0)" fill="#a89bd8"/><ellipse cx="224.8" cy="124.1" rx="2.1" ry="1.4" transform="rotate(85 224.7 126.0)" fill="#7464b0"/><ellipse cx="163.5" cy="129.5" rx="3.5" ry="2.3" transform="rotate(140 163.5 129.5)" fill="#9080c8"/><ellipse cx="165.3" cy="129.9" rx="2.8" ry="1.8" transform="rotate(2 163.5 129.5)" fill="#a89bd8"/><ellipse cx="165.4" cy="130.8" rx="2.1" ry="1.4" transform="rotate(176 163.5 129.5)" fill="#7464b0"/><ellipse cx="197.0" cy="136.4" rx="3.5" ry="2.3" transform="rotate(19 197.0 136.4)" fill="#9080c8"/><ellipse cx="195.8" cy="135.3" rx="2.8" ry="1.8" transform="rotate(140 197.0 136.4)" fill="#a89bd8"/><ellipse cx="195.5" cy="138.2" rx="2.1" ry="1.4" transform="rotate(20 197.0 136.4)" fill="#7464b0"/><ellipse cx="217.8" cy="139.9" rx="3.5" ry="2.3" transform="rotate(176 217.8 139.9)" fill="#9080c8"/><ellipse cx="217.9" cy="139.4" rx="2.8" ry="1.8" transform="rotate(84 217.8 139.9)" fill="#a89bd8"/><ellipse cx="216.7" cy="138.9" rx="2.1" ry="1.4" transform="rotate(114 217.8 139.9)" fill="#7464b0"/><ellipse cx="264.0" cy="130.6" rx="3.5" ry="2.3" transform="rotate(93 264.0 130.6)" fill="#9080c8"/><ellipse cx="262.1" cy="129.0" rx="2.8" ry="1.8" transform="rotate(170 264.0 130.6)" fill="#a89bd8"/><ellipse cx="262.2" cy="129.6" rx="2.1" ry="1.4" transform="rotate(144 264.0 130.6)" fill="#7464b0"/><ellipse cx="268.7" cy="137.5" rx="3.5" ry="2.3" transform="rotate(153 268.7 137.5)" fill="#9080c8"/><ellipse cx="267.8" cy="136.7" rx="2.8" ry="1.8" transform="rotate(11 268.7 137.5)" fill="#a89bd8"/><ellipse cx="270.6" cy="138.6" rx="2.1" ry="1.4" transform="rotate(144 268.7 137.5)" fill="#7464b0"/><ellipse cx="52.0" cy="147.4" rx="3.5" ry="2.3" transform="rotate(162 52.0 147.4)" fill="#9080c8"/><ellipse cx="53.9" cy="145.8" rx="2.8" ry="1.8" transform="rotate(166 52.0 147.4)" fill="#a89bd8"/><ellipse cx="51.0" cy="147.8" rx="2.1" ry="1.4" transform="rotate(57 52.0 147.4)" fill="#7464b0"/><ellipse cx="97.6" cy="147.4" rx="3.5" ry="2.3" transform="rotate(89 97.6 147.4)" fill="#9080c8"/><ellipse cx="96.4" cy="146.5" rx="2.8" ry="1.8" transform="rotate(72 97.6 147.4)" fill="#a89bd8"/><ellipse cx="98.0" cy="147.7" rx="2.1" ry="1.4" transform="rotate(83 97.6 147.4)" fill="#7464b0"/><ellipse cx="71.2" cy="163.0" rx="4.0" ry="2.6" transform="rotate(79 71.2 163.0)" fill="#9080c8"/><ellipse cx="69.9" cy="163.2" rx="3.2" ry="2.1" transform="rotate(59 71.2 163.0)" fill="#a89bd8"/><ellipse cx="72.0" cy="163.6" rx="2.4" ry="1.5" transform="rotate(34 71.2 163.0)" fill="#7464b0"/><ellipse cx="49.6" cy="157.0" rx="3.5" ry="2.3" transform="rotate(25 49.6 157.0)" fill="#9080c8"/><ellipse cx="50.0" cy="158.0" rx="2.8" ry="1.8" transform="rotate(80 49.6 157.0)" fill="#a89bd8"/><ellipse cx="50.5" cy="155.8" rx="2.1" ry="1.4" transform="rotate(159 49.6 157.0)" fill="#7464b0"/><ellipse cx="68.8" cy="171.4" rx="4.0" ry="2.6" transform="rotate(98 68.8 171.4)" fill="#9080c8"/><ellipse cx="68.7" cy="172.9" rx="3.2" ry="2.1" transform="rotate(99 68.8 171.4)" fill="#a89bd8"/><ellipse cx="70.1" cy="171.5" rx="2.4" ry="1.5" transform="rotate(58 68.8 171.4)" fill="#7464b0"/><ellipse cx="98.8" cy="161.8" rx="3.5" ry="2.3" transform="rotate(18 98.8 161.8)" fill="#9080c8"/><ellipse cx="97.1" cy="159.8" rx="2.8" ry="1.8" transform="rotate(96 98.8 161.8)" fill="#a89bd8"/><ellipse cx="97.0" cy="160.4" rx="2.1" ry="1.4" transform="rotate(166 98.8 161.8)" fill="#7464b0"/><ellipse cx="61.6" cy="188.2" rx="4.0" ry="2.6" transform="rotate(29 61.6 188.2)" fill="#9080c8"/><ellipse cx="62.2" cy="187.8" rx="3.2" ry="2.1" transform="rotate(179 61.6 188.2)" fill="#a89bd8"/><ellipse cx="61.6" cy="186.7" rx="2.4" ry="1.5" transform="rotate(160 61.6 188.2)" fill="#7464b0"/><ellipse cx="78.4" cy="184.6" rx="3.5" ry="2.3" transform="rotate(124 78.4 184.6)" fill="#9080c8"/><ellipse cx="77.9" cy="183.3" rx="2.8" ry="1.8" transform="rotate(58 78.4 184.6)" fill="#a89bd8"/><ellipse cx="79.9" cy="184.9" rx="2.1" ry="1.4" transform="rotate(110 78.4 184.6)" fill="#7464b0"/><ellipse cx="88.0" cy="184.6" rx="3.5" ry="2.3" transform="rotate(2 88.0 184.6)" fill="#9080c8"/><ellipse cx="89.5" cy="185.3" rx="2.8" ry="1.8" transform="rotate(86 88.0 184.6)" fill="#a89bd8"/><ellipse cx="89.0" cy="183.7" rx="2.1" ry="1.4" transform="rotate(163 88.0 184.6)" fill="#7464b0"/><ellipse cx="121.6" cy="177.4" rx="3.5" ry="2.3" transform="rotate(26 121.6 177.4)" fill="#9080c8"/><ellipse cx="120.9" cy="178.4" rx="2.8" ry="1.8" transform="rotate(42 121.6 177.4)" fill="#a89bd8"/><ellipse cx="122.0" cy="177.6" rx="2.1" ry="1.4" transform="rotate(63 121.6 177.4)" fill="#7464b0"/><ellipse cx="132.4" cy="183.4" rx="4.6" ry="2.9" transform="rotate(167 132.4 183.4)" fill="#9080c8"/><ellipse cx="133.1" cy="181.8" rx="3.6" ry="2.3" transform="rotate(140 132.4 183.4)" fill="#a89bd8"/><ellipse cx="131.2" cy="183.6" rx="2.7" ry="1.7" transform="rotate(24 132.4 183.4)" fill="#7464b0"/><ellipse cx="146.8" cy="203.8" rx="3.5" ry="2.3" transform="rotate(162 146.8 203.8)" fill="#9080c8"/><ellipse cx="146.5" cy="205.2" rx="2.8" ry="1.8" transform="rotate(123 146.8 203.8)" fill="#a89bd8"/><ellipse cx="148.5" cy="204.7" rx="2.1" ry="1.4" transform="rotate(180 146.8 203.8)" fill="#7464b0"/><ellipse cx="146.8" cy="213.4" rx="3.5" ry="2.3" transform="rotate(89 146.8 213.4)" fill="#9080c8"/><ellipse cx="146.7" cy="213.9" rx="2.8" ry="1.8" transform="rotate(72 146.8 213.4)" fill="#a89bd8"/><ellipse cx="147.0" cy="215.1" rx="2.1" ry="1.4" transform="rotate(174 146.8 213.4)" fill="#7464b0"/><ellipse cx="157.6" cy="219.4" rx="3.5" ry="2.3" transform="rotate(174 157.6 219.4)" fill="#9080c8"/><ellipse cx="158.7" cy="221.3" rx="2.8" ry="1.8" transform="rotate(160 157.6 219.4)" fill="#a89bd8"/><ellipse cx="157.7" cy="221.1" rx="2.1" ry="1.4" transform="rotate(34 157.6 219.4)" fill="#7464b0"/><ellipse cx="68.8" cy="224.2" rx="4.0" ry="2.6" transform="rotate(97 68.8 224.2)" fill="#9080c8"/><ellipse cx="67.0" cy="225.6" rx="3.2" ry="2.1" transform="rotate(31 68.8 224.2)" fill="#a89bd8"/><ellipse cx="67.6" cy="225.5" rx="2.4" ry="1.5" transform="rotate(105 68.8 224.2)" fill="#7464b0"/><ellipse cx="101.2" cy="225.4" rx="4.0" ry="2.6" transform="rotate(51 101.2 225.4)" fill="#9080c8"/><ellipse cx="100.8" cy="226.5" rx="3.2" ry="2.1" transform="rotate(6 101.2 225.4)" fill="#a89bd8"/><ellipse cx="103.1" cy="223.6" rx="2.4" ry="1.5" transform="rotate(82 101.2 225.4)" fill="#7464b0"/><ellipse cx="108.4" cy="247.0" rx="4.6" ry="2.9" transform="rotate(31 108.4 247.0)" fill="#9080c8"/><ellipse cx="109.1" cy="247.1" rx="3.6" ry="2.3" transform="rotate(36 108.4 247.0)" fill="#a89bd8"/><ellipse cx="109.8" cy="248.2" rx="2.7" ry="1.7" transform="rotate(105 108.4 247.0)" fill="#7464b0"/><ellipse cx="85.6" cy="260.2" rx="4.0" ry="2.6" transform="rotate(166 85.6 260.2)" fill="#9080c8"/><ellipse cx="85.2" cy="259.3" rx="3.2" ry="2.1" transform="rotate(173 85.6 260.2)" fill="#a89bd8"/><ellipse cx="84.3" cy="261.6" rx="2.4" ry="1.5" transform="rotate(87 85.6 260.2)" fill="#7464b0"/><ellipse cx="106.0" cy="259.0" rx="3.5" ry="2.3" transform="rotate(114 106.0 259.0)" fill="#9080c8"/><ellipse cx="105.0" cy="259.5" rx="2.8" ry="1.8" transform="rotate(94 106.0 259.0)" fill="#a89bd8"/><ellipse cx="105.4" cy="257.1" rx="2.1" ry="1.4" transform="rotate(171 106.0 259.0)" fill="#7464b0"/><ellipse cx="143.2" cy="245.8" rx="3.5" ry="2.3" transform="rotate(36 143.2 245.8)" fill="#9080c8"/><ellipse cx="144.6" cy="244.6" rx="2.8" ry="1.8" transform="rotate(56 143.2 245.8)" fill="#a89bd8"/><ellipse cx="143.1" cy="244.3" rx="2.1" ry="1.4" transform="rotate(3 143.2 245.8)" fill="#7464b0"/><ellipse cx="152.8" cy="261.4" rx="3.5" ry="2.3" transform="rotate(56 152.8 261.4)" fill="#9080c8"/><ellipse cx="154.5" cy="260.9" rx="2.8" ry="1.8" transform="rotate(115 152.8 261.4)" fill="#a89bd8"/><ellipse cx="152.1" cy="263.1" rx="2.1" ry="1.4" transform="rotate(115 152.8 261.4)" fill="#7464b0"/><ellipse cx="212.8" cy="148.6" rx="4.0" ry="2.6" transform="rotate(100 212.8 148.6)" fill="#9080c8"/><ellipse cx="211.0" cy="146.7" rx="3.2" ry="2.1" transform="rotate(38 212.8 148.6)" fill="#a89bd8"/><ellipse cx="213.6" cy="148.0" rx="2.4" ry="1.5" transform="rotate(151 212.8 148.6)" fill="#7464b0"/><ellipse cx="227.2" cy="158.2" rx="4.0" ry="2.6" transform="rotate(100 227.2 158.2)" fill="#9080c8"/><ellipse cx="228.0" cy="160.0" rx="3.2" ry="2.1" transform="rotate(127 227.2 158.2)" fill="#a89bd8"/><ellipse cx="227.5" cy="158.2" rx="2.4" ry="1.5" transform="rotate(11 227.2 158.2)" fill="#7464b0"/><ellipse cx="245.2" cy="163.0" rx="3.5" ry="2.3" transform="rotate(152 245.2 163.0)" fill="#9080c8"/><ellipse cx="244.6" cy="163.1" rx="2.8" ry="1.8" transform="rotate(161 245.2 163.0)" fill="#a89bd8"/><ellipse cx="243.3" cy="164.9" rx="2.1" ry="1.4" transform="rotate(161 245.2 163.0)" fill="#7464b0"/><ellipse cx="223.6" cy="170.2" rx="3.5" ry="2.3" transform="rotate(56 223.6 170.2)" fill="#9080c8"/><ellipse cx="223.7" cy="171.2" rx="2.8" ry="1.8" transform="rotate(144 223.6 170.2)" fill="#a89bd8"/><ellipse cx="225.1" cy="171.5" rx="2.1" ry="1.4" transform="rotate(19 223.6 170.2)" fill="#7464b0"/><ellipse cx="265.6" cy="147.4" rx="3.5" ry="2.3" transform="rotate(122 265.6 147.4)" fill="#9080c8"/><ellipse cx="263.9" cy="149.2" rx="2.8" ry="1.8" transform="rotate(81 265.6 147.4)" fill="#a89bd8"/><ellipse cx="267.4" cy="146.1" rx="2.1" ry="1.4" transform="rotate(73 265.6 147.4)" fill="#7464b0"/><ellipse cx="270.4" cy="179.8" rx="4.0" ry="2.6" transform="rotate(117 270.4 179.8)" fill="#9080c8"/><ellipse cx="268.5" cy="179.5" rx="3.2" ry="2.1" transform="rotate(76 270.4 179.8)" fill="#a89bd8"/><ellipse cx="272.2" cy="181.7" rx="2.4" ry="1.5" transform="rotate(70 270.4 179.8)" fill="#7464b0"/><ellipse cx="229.6" cy="205.0" rx="4.6" ry="2.9" transform="rotate(172 229.6 205.0)" fill="#9080c8"/><ellipse cx="228.8" cy="203.0" rx="3.6" ry="2.3" transform="rotate(5 229.6 205.0)" fill="#a89bd8"/><ellipse cx="229.9" cy="203.8" rx="2.7" ry="1.7" transform="rotate(21 229.6 205.0)" fill="#7464b0"/><ellipse cx="205.6" cy="218.2" rx="4.6" ry="2.9" transform="rotate(110 205.6 218.2)" fill="#9080c8"/><ellipse cx="204.3" cy="219.7" rx="3.6" ry="2.3" transform="rotate(174 205.6 218.2)" fill="#a89bd8"/><ellipse cx="206.3" cy="216.8" rx="2.7" ry="1.7" transform="rotate(95 205.6 218.2)" fill="#7464b0"/><ellipse cx="232.0" cy="219.4" rx="4.0" ry="2.6" transform="rotate(134 232.0 219.4)" fill="#9080c8"/><ellipse cx="232.6" cy="219.3" rx="3.2" ry="2.1" transform="rotate(85 232.0 219.4)" fill="#a89bd8"/><ellipse cx="232.6" cy="218.7" rx="2.4" ry="1.5" transform="rotate(135 232.0 219.4)" fill="#7464b0"/><ellipse cx="260.8" cy="212.2" rx="4.0" ry="2.6" transform="rotate(123 260.8 212.2)" fill="#9080c8"/><ellipse cx="261.3" cy="212.1" rx="3.2" ry="2.1" transform="rotate(106 260.8 212.2)" fill="#a89bd8"/><ellipse cx="260.4" cy="213.3" rx="2.4" ry="1.5" transform="rotate(16 260.8 212.2)" fill="#7464b0"/><ellipse cx="260.8" cy="221.8" rx="4.0" ry="2.6" transform="rotate(130 260.8 221.8)" fill="#9080c8"/><ellipse cx="260.9" cy="220.4" rx="3.2" ry="2.1" transform="rotate(106 260.8 221.8)" fill="#a89bd8"/><ellipse cx="261.6" cy="221.9" rx="2.4" ry="1.5" transform="rotate(116 260.8 221.8)" fill="#7464b0"/><ellipse cx="188.8" cy="235.0" rx="4.6" ry="2.9" transform="rotate(169 188.8 235.0)" fill="#9080c8"/><ellipse cx="189.6" cy="233.3" rx="3.6" ry="2.3" transform="rotate(51 188.8 235.0)" fill="#a89bd8"/><ellipse cx="189.6" cy="236.1" rx="2.7" ry="1.7" transform="rotate(174 188.8 235.0)" fill="#7464b0"/><ellipse cx="211.6" cy="233.8" rx="4.0" ry="2.6" transform="rotate(31 211.6 233.8)" fill="#9080c8"/><ellipse cx="211.4" cy="233.9" rx="3.2" ry="2.1" transform="rotate(92 211.6 233.8)" fill="#a89bd8"/><ellipse cx="211.1" cy="234.9" rx="2.4" ry="1.5" transform="rotate(138 211.6 233.8)" fill="#7464b0"/><ellipse cx="208.0" cy="243.4" rx="4.0" ry="2.6" transform="rotate(29 208.0 243.4)" fill="#9080c8"/><ellipse cx="207.9" cy="244.9" rx="3.2" ry="2.1" transform="rotate(57 208.0 243.4)" fill="#a89bd8"/><ellipse cx="208.8" cy="245.0" rx="2.4" ry="1.5" transform="rotate(59 208.0 243.4)" fill="#7464b0"/><ellipse cx="242.8" cy="229.0" rx="4.0" ry="2.6" transform="rotate(173 242.8 229.0)" fill="#9080c8"/><ellipse cx="244.0" cy="227.3" rx="3.2" ry="2.1" transform="rotate(110 242.8 229.0)" fill="#a89bd8"/><ellipse cx="242.6" cy="230.3" rx="2.4" ry="1.5" transform="rotate(74 242.8 229.0)" fill="#7464b0"/><ellipse cx="253.6" cy="236.2" rx="4.0" ry="2.6" transform="rotate(81 253.6 236.2)" fill="#9080c8"/><ellipse cx="255.1" cy="236.5" rx="3.2" ry="2.1" transform="rotate(150 253.6 236.2)" fill="#a89bd8"/><ellipse cx="254.7" cy="237.7" rx="2.4" ry="1.5" transform="rotate(14 253.6 236.2)" fill="#7464b0"/><ellipse cx="265.6" cy="235.0" rx="3.5" ry="2.3" transform="rotate(52 265.6 235.0)" fill="#9080c8"/><ellipse cx="266.5" cy="233.6" rx="2.8" ry="1.8" transform="rotate(10 265.6 235.0)" fill="#a89bd8"/><ellipse cx="267.2" cy="233.4" rx="2.1" ry="1.4" transform="rotate(16 265.6 235.0)" fill="#7464b0"/><ellipse cx="198.4" cy="248.2" rx="4.0" ry="2.6" transform="rotate(137 198.4 248.2)" fill="#9080c8"/><ellipse cx="197.3" cy="249.0" rx="3.2" ry="2.1" transform="rotate(67 198.4 248.2)" fill="#a89bd8"/><ellipse cx="199.4" cy="248.2" rx="2.4" ry="1.5" transform="rotate(175 198.4 248.2)" fill="#7464b0"/><ellipse cx="215.2" cy="257.8" rx="4.0" ry="2.6" transform="rotate(97 215.2 257.8)" fill="#9080c8"/><ellipse cx="214.2" cy="258.6" rx="3.2" ry="2.1" transform="rotate(48 215.2 257.8)" fill="#a89bd8"/><ellipse cx="217.2" cy="258.7" rx="2.4" ry="1.5" transform="rotate(46 215.2 257.8)" fill="#7464b0"/><ellipse cx="244.0" cy="256.6" rx="3.5" ry="2.3" transform="rotate(33 244.0 256.6)" fill="#9080c8"/><ellipse cx="244.0" cy="257.0" rx="2.8" ry="1.8" transform="rotate(24 244.0 256.6)" fill="#a89bd8"/><ellipse cx="243.6" cy="256.8" rx="2.1" ry="1.4" transform="rotate(146 244.0 256.6)" fill="#7464b0"/><ellipse cx="263.2" cy="260.2" rx="4.0" ry="2.6" transform="rotate(147 263.2 260.2)" fill="#9080c8"/><ellipse cx="262.6" cy="261.9" rx="3.2" ry="2.1" transform="rotate(146 263.2 260.2)" fill="#a89bd8"/><ellipse cx="261.5" cy="259.7" rx="2.4" ry="1.5" transform="rotate(15 263.2 260.2)" fill="#7464b0"/><ellipse cx="204.4" cy="271.0" rx="3.5" ry="2.3" transform="rotate(84 204.4 271.0)" fill="#9080c8"/><ellipse cx="206.0" cy="272.8" rx="2.8" ry="1.8" transform="rotate(81 204.4 271.0)" fill="#a89bd8"/><ellipse cx="203.4" cy="271.3" rx="2.1" ry="1.4" transform="rotate(113 204.4 271.0)" fill="#7464b0"/><ellipse cx="160.0" cy="262.6" rx="3.5" ry="2.3" transform="rotate(28 160.0 262.6)" fill="#9080c8"/><ellipse cx="158.6" cy="263.9" rx="2.8" ry="1.8" transform="rotate(48 160.0 262.6)" fill="#a89bd8"/><ellipse cx="158.9" cy="261.2" rx="2.1" ry="1.4" transform="rotate(22 160.0 262.6)" fill="#7464b0"/></g>
</g></g>
</g>

<!-- blue label -->
<rect x="55.5" y="283.5" width="210.5" height="30.5" fill="#4472C4" stroke="#2F528F" stroke-width="1"/>
<text x="63" y="305" font-size="17.4" font-style="italic" textLength="190" lengthAdjust="spacingAndGlyphs" style="fill:#fff">Campanula kirikkaleensis</text>

<!-- Extraction -->
<text class="b" x="291.5" y="120" font-size="13" textLength="60.5" lengthAdjust="spacingAndGlyphs">Extraction</text>
<path d="M301.3,141.8 L330.1,141.8 L330.1,134.4 L344.7,149.1 L330.1,163.9 L330.1,156.4 L301.3,156.4 Z" fill="#F4B183" stroke="#41628A" stroke-width="1"/>

<!-- FLASK -->
<g id="flask">
<defs>
<linearGradient id="liq" x1="0" y1="0" x2="1" y2="0">
<stop offset="0" stop-color="#1d7f2f"/><stop offset="0.18" stop-color="#27a23c"/><stop offset="0.5" stop-color="#35b44c"/><stop offset="0.82" stop-color="#27a23c"/><stop offset="1" stop-color="#1b7a2d"/>
</linearGradient>
<linearGradient id="glass" x1="0" y1="0" x2="1" y2="0">
<stop offset="0" stop-color="#d8dade"/><stop offset="0.25" stop-color="#f4f5f7"/><stop offset="0.6" stop-color="#fbfbfc"/><stop offset="1" stop-color="#d5d7db"/>
</linearGradient>
</defs>
<path d="M381.7,99.8 Q381.5,98.5 383,98.6 L411.5,98.6 Q413,98.6 412.8,100 L411.9,102 L411.9,125.8 L428.5,174 Q431,181 427,185 Q420,189 395.5,189 Q371,189 364,185 Q360,181 362.5,174 L383.4,125.8 L383.4,102 Z" fill="url(#glass)" stroke="#b9bcc2" stroke-width="0.7"/>
<path d="M378,133.8 Q395.5,136.5 414.5,133.8 L428.2,174 Q430.6,181 426.5,184.6 Q420,188.6 395.5,188.6 Q371,188.6 364.5,184.6 Q360.4,181 362.8,174 Z" fill="url(#liq)"/>
<ellipse cx="396" cy="134" rx="18" ry="2" fill="#52c266" opacity="0.8"/>
<path d="M363,176 Q395.5,181 428,176 L428.5,178 Q430,183 426.5,185 Q420,188.6 395.5,188.6 Q371,188.6 364.5,185 Q361,183 362.5,178 Z" fill="#1d8a35" opacity="0.7"/>
<path d="M370,159 L379,159 L377.5,170 L367.5,170 Z" fill="#8fcf98" opacity="0.6"/>
<line x1="402" y1="128" x2="402" y2="182" stroke="#9fe0aa" stroke-width="0.5" opacity="0.7"/>
<line x1="386" y1="153" x2="416" y2="153" stroke="#7fd08c" stroke-width="0.5" opacity="0.6"/>
<line x1="384" y1="163" x2="420" y2="163" stroke="#7fd08c" stroke-width="0.5" opacity="0.6"/>
<line x1="390" y1="103" x2="390" y2="118" stroke="#e6e8ea" stroke-width="1.2"/>
</g>

<!-- GC-FID/MS -->
<text class="b" x="592.5" y="35.6" font-size="12.5" textLength="121.5" lengthAdjust="spacingAndGlyphs">GC-FID/MS analyses</text>
<g transform="translate(553,24.4) scale(0.0901,0.0886)"><path d="M350,2 C185,2 10,60 3,160 L10,192 C55,130 205,95 350,95 Z" fill="#C98F68" stroke="#41628A" stroke-width="1" vector-effect="non-scaling-stroke"/>
    <path d="M3,160 L3,210 C3,300 125,370 265,378 L265,440 L355,350 L265,255 L265,310 C145,295 45,250 10,192 Z" fill="#F4B183" stroke="#41628A" stroke-width="1" vector-effect="non-scaling-stroke"/></g>
<g transform="translate(766,25.5) scale(-0.0905,0.089)"><path d="M475,0 C245,5 65,45 0,115 L0,188 L25,188 C110,145 290,108 475,105 Z" fill="#C98F68" stroke="#41628A" stroke-width="1" vector-effect="non-scaling-stroke"/>
    <path d="M0,150 L0,225 C25,300 195,345 365,355 L365,410 L475,305 L365,200 L365,255 C215,250 85,225 25,188 Z" fill="#F4B183" stroke="#41628A" stroke-width="1" vector-effect="non-scaling-stroke"/></g>
<text class="m" x="506" y="113" font-size="12.5" textLength="36" lengthAdjust="spacingAndGlyphs">Phytol</text>
<text class="m" x="701.5" y="108" font-size="13.7" textLength="108.5" lengthAdjust="spacingAndGlyphs">Hexadecanoic acid</text>

<!-- MSD-SPME -->
<text class="b sr" x="607.2" y="140.4" font-size="15.6" textLength="77.5" lengthAdjust="spacingAndGlyphs">MSD-SPME</text>
<path d="M641.6,147.5 L650.2,147.5 L650.2,165.2 L654.6,165.2 L645.9,173.6 L637.2,165.2 L641.6,165.2 Z" fill="#F4B183" stroke="#41628A" stroke-width="0.9"/>
<text class="m" x="546.5" y="262" font-size="11.2" textLength="203.5" lengthAdjust="spacingAndGlyphs">3-ethyl-3,4-dihydro-2(1H)-quinoxalinone</text>

<!-- FAME -->
<text class="b" x="424.5" y="241" font-size="16.7" textLength="43.5" lengthAdjust="spacingAndGlyphs">FAME</text>
<path d="M438.4,247.4 L447.2,247.4 L447.2,265.3 L451.6,265.3 L442.8,274.1 L434,265.3 L438.4,265.3 Z" fill="#F4B183" stroke="#41628A" stroke-width="0.9"/>
<text class="m" x="405.3" y="350.2" font-size="13.7" textLength="71.5" lengthAdjust="spacingAndGlyphs">Linoleic acid</text>

<!-- ICP-OES -->
<text class="m" x="240.5" y="387.9" font-size="13.4" textLength="97.2" lengthAdjust="spacingAndGlyphs">ICP-OES analysis</text>
<g transform="translate(200.2,380) scale(0.089,0.0891)"><path d="M350,2 C185,2 10,60 3,160 L10,192 C55,130 205,95 350,95 Z" fill="#C98F68" stroke="#41628A" stroke-width="1" vector-effect="non-scaling-stroke"/>
    <path d="M3,160 L3,210 C3,300 125,370 265,378 L265,440 L355,350 L265,255 L265,310 C145,295 45,250 10,192 Z" fill="#F4B183" stroke="#41628A" stroke-width="1" vector-effect="non-scaling-stroke"/></g>
<g transform="translate(388.5,381.3) scale(-0.0891,0.089)"><path d="M475,0 C245,5 65,45 0,115 L0,188 L25,188 C110,145 290,108 475,105 Z" fill="#C98F68" stroke="#41628A" stroke-width="1" vector-effect="non-scaling-stroke"/>
    <path d="M0,150 L0,225 C25,300 195,345 365,355 L365,410 L475,305 L365,200 L365,255 C215,250 85,225 25,188 Z" fill="#F4B183" stroke="#41628A" stroke-width="1" vector-effect="non-scaling-stroke"/></g>
<ellipse cx="200.6" cy="450.3" rx="68.4" ry="24.5" fill="#92D050" stroke="#3B6478" stroke-width="1.1"/>
<ellipse cx="358.6" cy="450.2" rx="78.6" ry="24.8" fill="#92D050" stroke="#3B6478" stroke-width="1.1"/>
<text class="m" x="152.5" y="449" font-size="13" textLength="81.5" lengthAdjust="spacingAndGlyphs">Ca: 24.9 mg/g</text>
<text class="m" x="291.8" y="452.5" font-size="12.7" textLength="129.5" lengthAdjust="spacingAndGlyphs">K: 11.7 and 19.0 mg/g</text>

<!-- STRUCT1 -->
<g stroke="#3a3a3a" stroke-width="0.8" fill="none" stroke-linejoin="round">
<polyline points="466.7,80.1 473,76.7 482.8,82.2 493,76.7 504.5,82.2 514.7,76.7 524.9,82.2 534.8,76.7 546.7,82.2 556.4,76.7 566.6,82.2 576.4,76.7 581.5,79.6"/>
<line x1="473" y1="76.7" x2="473" y2="68.6"/><line x1="514.7" y1="76.7" x2="514.7" y2="68.6"/><line x1="556.4" y1="76.7" x2="556.4" y2="68.6"/>
<line x1="557.5" y1="79.3" x2="565.8" y2="83.8"/>
<polyline points="500,61 498.5,61 498.5,88.6 500,88.6"/>
<polyline points="536.7,61 538.2,61 538.2,88.6 536.7,88.6"/>
</g>
<g style="font-size:7.4px" fill="#333">
<text x="452" y="84.7">H<tspan font-size="5" dy="1.5">3</tspan><tspan dy="-1.5">C</tspan></text>
<text x="470" y="68.8">CH<tspan font-size="5" dy="1.5">3</tspan></text>
<text x="511.7" y="68.8">CH<tspan font-size="5" dy="1.5">3</tspan></text>
<text x="553.5" y="68.8">CH<tspan font-size="5" dy="1.5">3</tspan></text>
<text x="582.5" y="84.7">OH</text>
<text x="541.3" y="92.4" font-size="7.4">2</text>
</g>
<g stroke="#46526c" stroke-width="0.8" fill="none" stroke-linejoin="round"><polyline points="670.8,79.1 681.2,73.4 691.5,79.1 701.9,73.4 712.2,79.1 722.6,73.4 733.0,79.1 743.3,73.4 753.7,79.1 764.0,73.4 774.4,79.1 784.8,73.4 795.1,79.1 805.5,73.4 815.8,79.1 826.2,73.4"/><line x1="826.3" y1="73.4" x2="832.8" y2="77.2"/><line x1="827.1" y1="73" x2="827.1" y2="66.3"/><line x1="825.3" y1="73" x2="825.3" y2="66.3"/></g><g fill="#46526c" style="font-size:8.2px"><text x="823.2" y="65.2">O</text><text x="833.2" y="82.8">OH</text></g>
<g stroke="#46526c" stroke-width="0.8" fill="none" stroke-linejoin="round"><polyline points="382.4,284.8 389.6,280.8 401.6,288.0 413.6,280.8 425.6,288.0 437.6,280.8 448.8,288.0 460.8,280.8 472.8,288.0 484.0,281.6 496.0,288.0 496.0,301.6 507.2,308.8 507.2,322.4 496.0,328.8 484.0,322.4 472.8,328.8 460.8,322.4 448.8,328.8"/><line x1="388.7" y1="281" x2="388.7" y2="272.3"/><line x1="390.6" y1="281" x2="390.6" y2="272.3"/><line x1="485" y1="284.2" x2="494" y2="289"/><line x1="504.8" y1="310.5" x2="504.8" y2="320.8"/></g><g fill="#46526c" style="font-size:8.8px"><text x="367.3" y="292">HO</text><text x="386.2" y="271.2">O</text></g>
<g stroke="#2a2a2a" stroke-width="0.9" fill="none" stroke-linejoin="round">
<polygon points="608.5,198.5 627.7,207.6 627.7,226.1 608.5,234.9 587.7,226.1 587.7,207.6"/>
<line x1="590.5" y1="209.8" x2="608.5" y2="201.6"/><line x1="624.9" y1="209.5" x2="624.9" y2="224.2"/><line x1="590.5" y1="223.9" x2="608.5" y2="231.8"/>
<line x1="627.7" y1="207.6" x2="643.5" y2="200.3"/><line x1="654.3" y1="200.3" x2="669.7" y2="207.6"/>
<line x1="669.7" y1="207.6" x2="683.3" y2="200.6"/><line x1="669.4" y1="210.8" x2="683.8" y2="203.4"/>
<line x1="669.7" y1="207.6" x2="669.7" y2="226.1"/>
<line x1="669.7" y1="226.1" x2="654.3" y2="233.4"/><line x1="643.5" y1="233.4" x2="627.7" y2="226.1"/>
<polyline points="669.7,226.1 688.9,234.9 709.7,225.3"/>
</g>
<g fill="#1a1a1a" style="font-size:14.2px" text-anchor="middle">
<text class="sr m" x="648.9" y="191.6">H</text><text class="sr m" x="648.9" y="202.8">N</text><text class="sr m" x="689.3" y="202.8">O</text>
<text class="sr m" x="648.9" y="239">N</text><text class="sr m" x="648.9" y="251">H</text>
</g>
<!-- /STRUCT1 -->
<!-- Antioxidant -->
<ellipse cx="562.7" cy="432" rx="103.2" ry="86" fill="#888" opacity="0.5" filter="url(#shd)"/>
<ellipse cx="562.7" cy="431" rx="103.7" ry="86" fill="#FB98FB" stroke="#C07AC0" stroke-width="0.8"/>
<text class="b" x="499.3" y="383" font-size="13.2" textLength="119.8" lengthAdjust="spacingAndGlyphs">Antioxidant Activity</text>
<text class="m" x="472.2" y="412.3" font-size="14.5" textLength="180" lengthAdjust="spacingAndGlyphs">DPPH: IC<tspan font-size="9.5" dy="1.6">50</tspan><tspan dy="-1.6">: 0.14 ± 0.02 mg/mL</tspan></text>
<text class="m" x="471.5" y="439" font-size="14.5" textLength="195" lengthAdjust="spacingAndGlyphs">CUPRAC: 375.1 ± 12.2 mM Trolox</text>
<text class="m" x="473.7" y="464.1" font-size="14.5" textLength="129" lengthAdjust="spacingAndGlyphs">TEAC: 1.27 ± 0.02 mM</text>

<!-- LC-HRMS -->
<text class="b" x="821" y="233" font-size="12.8" textLength="54.5" lengthAdjust="spacingAndGlyphs">LC-HRMS</text>
<g transform="translate(779.7,233.7) scale(0.0924,0.0882)"><path d="M350,2 C185,2 10,60 3,160 L10,192 C55,130 205,95 350,95 Z" fill="#C98F68" stroke="#41628A" stroke-width="1" vector-effect="non-scaling-stroke"/>
    <path d="M3,160 L3,210 C3,300 125,370 265,378 L265,440 L355,350 L265,255 L265,310 C145,295 45,250 10,192 Z" fill="#F4B183" stroke="#41628A" stroke-width="1" vector-effect="non-scaling-stroke"/></g>
<g transform="translate(922.6,233.7) scale(-0.0909,0.0905)"><path d="M475,0 C245,5 65,45 0,115 L0,188 L25,188 C110,145 290,108 475,105 Z" fill="#C98F68" stroke="#41628A" stroke-width="1" vector-effect="non-scaling-stroke"/>
    <path d="M0,150 L0,225 C25,300 195,345 365,355 L365,410 L475,305 L365,200 L365,255 C215,250 85,225 25,188 Z" fill="#F4B183" stroke="#41628A" stroke-width="1" vector-effect="non-scaling-stroke"/></g>
<text class="m" x="749" y="384" font-size="13" textLength="31.7" lengthAdjust="spacingAndGlyphs">Rutin</text>
<text class="m" x="867.4" y="379" font-size="14.8" textLength="98.3" lengthAdjust="spacingAndGlyphs">Chlorogenic acid</text>

<!-- STRUCT2 -->
<g transform="translate(695,280) scale(0.10681)">
<g stroke="#333" stroke-width="7" fill="none" stroke-linecap="round">
<line x1="280" y1="180" x2="370" y2="230"/>
<line x1="370" y1="230" x2="370" y2="330"/>
<line x1="370" y1="330" x2="280" y2="385"/>
<line x1="280" y1="385" x2="190" y2="330"/>
<line x1="190" y1="330" x2="190" y2="215"/>
<line x1="190" y1="215" x2="280" y2="180"/>
<line x1="205" y1="235" x2="205" y2="315"/>
<line x1="290" y1="197" x2="355" y2="238"/>
<line x1="290" y1="368" x2="355" y2="330"/>
<line x1="190" y1="215" x2="135" y2="190"/>
<line x1="280" y1="385" x2="280" y2="455"/>
<line x1="370" y1="230" x2="430" y2="195"/>
<line x1="490" y1="195" x2="550" y2="230"/>
<line x1="550" y1="230" x2="550" y2="330"/>
<line x1="535" y1="240" x2="535" y2="320"/>
<line x1="550" y1="330" x2="460" y2="385"/>
<line x1="460" y1="385" x2="370" y2="330"/>
<line x1="452" y1="390" x2="452" y2="465"/>
<line x1="468" y1="390" x2="468" y2="465"/>
<line x1="550" y1="230" x2="642" y2="183"/>
<line x1="550" y1="330" x2="625" y2="395"/>
<line x1="642" y1="183" x2="642" y2="78"/>
<line x1="642" y1="78" x2="732" y2="28"/>
<line x1="732" y1="28" x2="822" y2="78"/>
<line x1="822" y1="78" x2="822" y2="183"/>
<line x1="822" y1="183" x2="732" y2="233"/>
<line x1="732" y1="233" x2="642" y2="183"/>
<line x1="657" y1="75" x2="727" y2="45"/>
<line x1="807" y1="88" x2="807" y2="173"/>
<line x1="657" y1="186" x2="727" y2="216"/>
<line x1="822" y1="78" x2="882" y2="45"/>
<line x1="822" y1="183" x2="882" y2="215"/>
<line x1="562" y1="343" x2="624" y2="393"/>
<line x1="677" y1="423" x2="777" y2="433"/>
<line x1="777" y1="433" x2="837" y2="303"/>
<line x1="837" y1="303" x2="772" y2="325"/>
<line x1="837" y1="303" x2="997" y2="343"/>
<line x1="997" y1="343" x2="1030" y2="285"/>
<line x1="997" y1="343" x2="1137" y2="303"/>
<line x1="1137" y1="303" x2="1187" y2="345"/>
<line x1="1062" y1="433" x2="1162" y2="408"/>
<line x1="1162" y1="408" x2="1230" y2="443"/>
<line x1="1254" y1="490" x2="1254" y2="564"/>
<line x1="1079" y1="596" x2="954" y2="564"/>
<line x1="954" y1="564" x2="889" y2="580"/>
<line x1="954" y1="564" x2="889" y2="694"/>
<line x1="889" y1="694" x2="814" y2="674"/>
<line x1="1024" y1="654" x2="994" y2="714"/>
<line x1="1174" y1="694" x2="1179" y2="770"/>
</g><g stroke="#222" stroke-width="20" fill="none" stroke-linecap="round">
<line x1="777" y1="433" x2="887" y2="403"/>
<line x1="937" y1="403" x2="1062" y2="433"/>
<line x1="1062" y1="433" x2="1137" y2="303"/>
<line x1="1254" y1="564" x2="1134" y2="592"/>
<line x1="889" y1="694" x2="1024" y2="654"/>
<line x1="1024" y1="654" x2="1174" y2="694"/>
<line x1="1174" y1="694" x2="1254" y2="564"/>
</g><g fill="#333" style="font-size:62px" text-anchor="middle">
<text x="78" y="209">HO</text>
<text x="460" y="207">O</text>
<text x="300" y="514">OH</text>
<text x="460" y="517">O</text>
<text x="650" y="437">O</text>
<text x="932" y="55">OH</text>
<text x="932" y="260">OH</text>
<text x="652" y="440">O</text>
<text x="722" y="355">HO</text>
<text x="1072" y="280">OH</text>
<text x="912" y="420">O</text>
<text x="1252" y="380">OH</text>
<text x="1252" y="485">O</text>
<text x="1104" y="626">O</text>
<text x="759" y="692">HO</text>
<text x="959" y="766">HO</text>
<text x="1199" y="816">OH</text>
<text x="824" y="612">H<tspan font-size="42" dy="10">3</tspan><tspan dy="-10">C</tspan></text>
</g></g>
<g transform="translate(855,280) scale(0.10681)">
<g stroke="#333" stroke-width="7" fill="none" stroke-linecap="round">
<line x1="285" y1="150" x2="365" y2="200"/>
<line x1="365" y1="200" x2="365" y2="300"/>
<line x1="365" y1="300" x2="285" y2="350"/>
<line x1="285" y1="350" x2="190" y2="300"/>
<line x1="190" y1="300" x2="190" y2="200"/>
<line x1="190" y1="200" x2="285" y2="150"/>
<line x1="470" y1="335" x2="535" y2="300"/>
<line x1="528" y1="300" x2="528" y2="232"/>
<line x1="542" y1="300" x2="542" y2="232"/>
<line x1="535" y1="300" x2="625" y2="350"/>
<line x1="625" y1="350" x2="710" y2="300"/>
<line x1="630" y1="333" x2="705" y2="290"/>
<line x1="710" y1="300" x2="790" y2="347"/>
<line x1="790" y1="347" x2="875" y2="297"/>
<line x1="875" y1="297" x2="960" y2="347"/>
<line x1="960" y1="347" x2="960" y2="447"/>
<line x1="960" y1="447" x2="875" y2="497"/>
<line x1="875" y1="497" x2="790" y2="447"/>
<line x1="790" y1="447" x2="790" y2="347"/>
<line x1="877" y1="315" x2="945" y2="355"/>
<line x1="807" y1="359" x2="807" y2="437"/>
<line x1="877" y1="479" x2="945" y2="439"/>
<line x1="960" y1="447" x2="1015" y2="479"/>
<line x1="875" y1="497" x2="875" y2="559"/>
<line x1="277" y1="149" x2="286" y2="142"/>
<line x1="269" y1="141" x2="280" y2="132"/>
<line x1="260" y1="134" x2="275" y2="121"/>
<line x1="251" y1="126" x2="270" y2="111"/>
<line x1="242" y1="119" x2="265" y2="100"/>
<line x1="187" y1="308" x2="182" y2="298"/>
<line x1="177" y1="316" x2="170" y2="302"/>
<line x1="167" y1="324" x2="158" y2="306"/>
<line x1="157" y1="332" x2="146" y2="310"/>
<line x1="148" y1="340" x2="133" y2="314"/>
<line x1="291" y1="356" x2="280" y2="357"/>
<line x1="294" y1="369" x2="279" y2="370"/>
<line x1="297" y1="382" x2="278" y2="383"/>
<line x1="301" y1="395" x2="276" y2="396"/>
<line x1="304" y1="407" x2="275" y2="410"/>
</g><g stroke="#222" stroke-width="18" fill="none" stroke-linecap="round">
<line x1="285" y1="150" x2="320" y2="100"/>
<line x1="365" y1="300" x2="420" y2="335"/>
</g><g fill="#333" style="font-size:62px" text-anchor="middle">
<text x="205" y="97">HO</text>
<text x="445" y="377">O</text>
<text x="535" y="232">O</text>
<text x="95" y="372">HO</text>
<text x="300" y="472">OH</text>
<text x="1065" y="524">OH</text>
<text x="895" y="619">OH</text>
<text x="395" y="97">CO<tspan font-size="42" dy="10">2</tspan><tspan dy="-10">H</tspan></text>
</g></g>
<!-- /STRUCT2 -->
<!-- Antidiabetic -->
<ellipse cx="833" cy="456.5" rx="151.5" ry="64.5" fill="#888" opacity="0.5" filter="url(#shd)"/>
<ellipse cx="833" cy="455.5" rx="152" ry="64.5" fill="#FCD767" stroke="#D9B555" stroke-width="0.6"/>
<text class="b" x="770" y="427.2" font-size="14" textLength="122" lengthAdjust="spacingAndGlyphs">Antidiabetic Activity</text>
<text class="m" x="689.4" y="464.8" font-size="15.4" textLength="288.4" lengthAdjust="spacingAndGlyphs">α-amylase inhibition (IC<tspan font-size="10" dy="1.7">50</tspan><tspan dy="-1.7">: 0.537 ± 0.042 mg/mL)</tspan></text>

</svg>
</body></html>
